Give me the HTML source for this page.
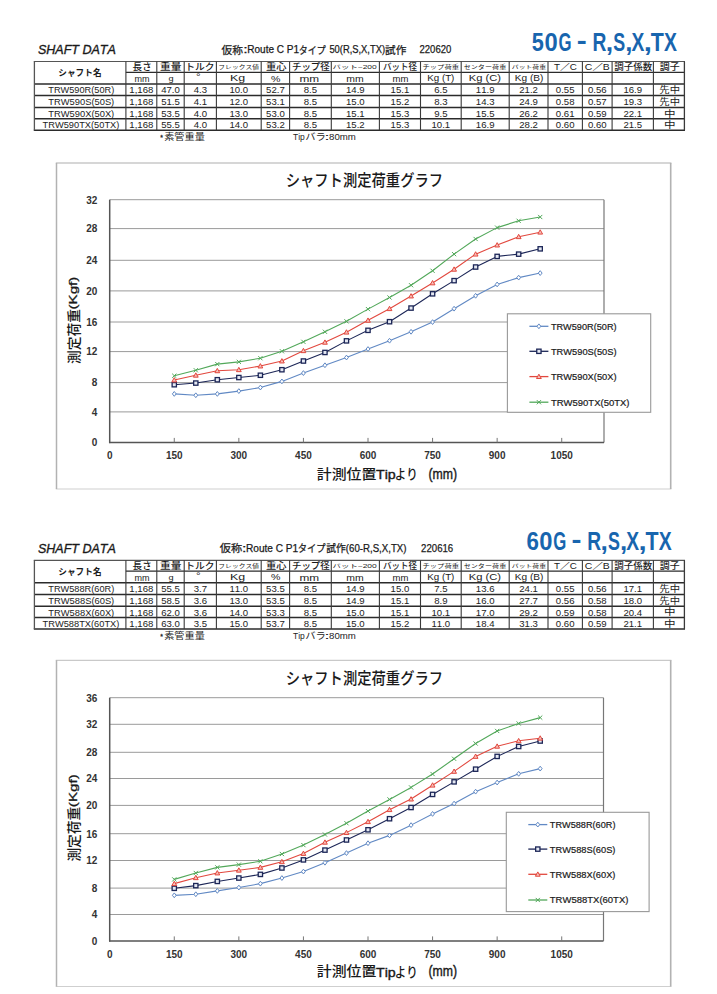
<!DOCTYPE html>
<html lang="ja"><head><meta charset="utf-8"><title>SHAFT DATA</title>
<style>
html,body{margin:0;padding:0;background:#fff;}
body{width:717px;height:994px;overflow:hidden;}
svg{display:block;}
text{font-kerning:none;}
</style></head><body>
<svg width="717" height="994" viewBox="0 0 717 994">
<rect width="717" height="994" fill="#fff"/>
<text x="37.88" y="54.27" font-size="12.68" text-anchor="start" font-family='"Liberation Sans", "Noto Sans CJK JP", sans-serif' fill="#1a1a1a" textLength="78.02" lengthAdjust="spacingAndGlyphs" style="font-style:italic" stroke="#1a1a1a" stroke-width="0.35">SHAFT DATA</text>
<text x="221.49" y="53.50" font-size="10.5" text-anchor="start" font-family='"Liberation Sans", "Noto Sans CJK JP", sans-serif' fill="#1a1a1a" textLength="21.44" lengthAdjust="spacingAndGlyphs" stroke="#1a1a1a" stroke-width="0.25">仮称</text>
<text x="243.16" y="53.20" font-size="10" text-anchor="start" font-family='"Liberation Sans", "Noto Sans CJK JP", sans-serif' fill="#1a1a1a" textLength="4.44" lengthAdjust="spacingAndGlyphs" stroke="#1a1a1a" stroke-width="0.25">:</text>
<text x="247.30" y="53.20" font-size="10" text-anchor="start" font-family='"Liberation Sans", "Noto Sans CJK JP", sans-serif' fill="#1a1a1a" textLength="51.85" lengthAdjust="spacingAndGlyphs" stroke="#1a1a1a" stroke-width="0.25">Route C P1</text>
<text x="298.69" y="53.50" font-size="10.5" text-anchor="start" font-family='"Liberation Sans", "Noto Sans CJK JP", sans-serif' fill="#1a1a1a" textLength="26.94" lengthAdjust="spacingAndGlyphs" stroke="#1a1a1a" stroke-width="0.25">タイプ</text>
<text x="329.43" y="53.20" font-size="10" text-anchor="start" font-family='"Liberation Sans", "Noto Sans CJK JP", sans-serif' fill="#1a1a1a" textLength="55.60" lengthAdjust="spacingAndGlyphs" stroke="#1a1a1a" stroke-width="0.25">50(R,S,X,TX)</text>
<text x="385.03" y="53.50" font-size="10.5" text-anchor="start" font-family='"Liberation Sans", "Noto Sans CJK JP", sans-serif' fill="#1a1a1a" textLength="21.24" lengthAdjust="spacingAndGlyphs" stroke="#1a1a1a" stroke-width="0.25">試作</text>
<text x="419.52" y="53.20" font-size="11" text-anchor="start" font-family='"Liberation Sans", "Noto Sans CJK JP", sans-serif' fill="#1a1a1a" textLength="31.83" lengthAdjust="spacingAndGlyphs" stroke="#1a1a1a" stroke-width="0.25">220620</text>
<text x="531.83" y="50.70" font-size="26.6" text-anchor="start" font-family='"Liberation Sans", "Noto Sans CJK JP", sans-serif' font-weight="bold" fill="#1865ae" textLength="12.07" lengthAdjust="spacingAndGlyphs">5</text>
<text x="544.46" y="50.70" font-size="26.6" text-anchor="start" font-family='"Liberation Sans", "Noto Sans CJK JP", sans-serif' font-weight="bold" fill="#1865ae" textLength="13.21" lengthAdjust="spacingAndGlyphs">0</text>
<text x="558.41" y="50.70" font-size="26.6" text-anchor="start" font-family='"Liberation Sans", "Noto Sans CJK JP", sans-serif' font-weight="bold" fill="#1865ae" textLength="13.03" lengthAdjust="spacingAndGlyphs">G</text>
<text x="576.73" y="49.10" font-size="26.6" text-anchor="start" font-family='"Liberation Sans", "Noto Sans CJK JP", sans-serif' font-weight="bold" fill="#1865ae" textLength="9.97" lengthAdjust="spacingAndGlyphs">-</text>
<text x="592.51" y="50.70" font-size="26.6" text-anchor="start" font-family='"Liberation Sans", "Noto Sans CJK JP", sans-serif' font-weight="bold" fill="#1865ae" textLength="13.88" lengthAdjust="spacingAndGlyphs">R</text>
<text x="605.70" y="50.70" font-size="26.6" text-anchor="start" font-family='"Liberation Sans", "Noto Sans CJK JP", sans-serif' font-weight="bold" fill="#1865ae" textLength="7.38" lengthAdjust="spacingAndGlyphs">,</text>
<text x="613.19" y="50.70" font-size="26.6" text-anchor="start" font-family='"Liberation Sans", "Noto Sans CJK JP", sans-serif' font-weight="bold" fill="#1865ae" textLength="11.91" lengthAdjust="spacingAndGlyphs">S</text>
<text x="625.24" y="50.70" font-size="26.6" text-anchor="start" font-family='"Liberation Sans", "Noto Sans CJK JP", sans-serif' font-weight="bold" fill="#1865ae" textLength="7.19" lengthAdjust="spacingAndGlyphs">,</text>
<text x="631.53" y="50.70" font-size="26.6" text-anchor="start" font-family='"Liberation Sans", "Noto Sans CJK JP", sans-serif' font-weight="bold" fill="#1865ae" textLength="12.84" lengthAdjust="spacingAndGlyphs">X</text>
<text x="643.81" y="50.70" font-size="26.6" text-anchor="start" font-family='"Liberation Sans", "Noto Sans CJK JP", sans-serif' font-weight="bold" fill="#1865ae" textLength="8.16" lengthAdjust="spacingAndGlyphs">,</text>
<text x="650.76" y="50.70" font-size="26.6" text-anchor="start" font-family='"Liberation Sans", "Noto Sans CJK JP", sans-serif' font-weight="bold" fill="#1865ae" textLength="13.07" lengthAdjust="spacingAndGlyphs">T</text>
<text x="663.93" y="50.70" font-size="26.6" text-anchor="start" font-family='"Liberation Sans", "Noto Sans CJK JP", sans-serif' font-weight="bold" fill="#1865ae" textLength="12.94" lengthAdjust="spacingAndGlyphs">X</text>
<line x1="33.80" y1="61.50" x2="685.00" y2="61.50" stroke="#555" stroke-width="1.2"/>
<line x1="125.90" y1="72.30" x2="684.40" y2="72.30" stroke="#2b2b2b" stroke-width="1.2"/>
<line x1="34.40" y1="83.90" x2="684.40" y2="83.90" stroke="#2b2b2b" stroke-width="1.5"/>
<line x1="34.40" y1="95.60" x2="684.40" y2="95.60" stroke="#2b2b2b" stroke-width="1.5"/>
<line x1="34.40" y1="107.40" x2="684.40" y2="107.40" stroke="#2b2b2b" stroke-width="1.5"/>
<line x1="34.40" y1="118.80" x2="684.40" y2="118.80" stroke="#2b2b2b" stroke-width="1.5"/>
<line x1="33.80" y1="130.30" x2="685.00" y2="130.30" stroke="#2b2b2b" stroke-width="1.5"/>
<line x1="34.40" y1="61.50" x2="34.40" y2="130.30" stroke="#555" stroke-width="1.3"/>
<line x1="125.90" y1="61.50" x2="125.90" y2="130.30" stroke="#3a3a3a" stroke-width="1.1"/>
<line x1="156.80" y1="61.50" x2="156.80" y2="130.30" stroke="#3a3a3a" stroke-width="1.1"/>
<line x1="184.20" y1="61.50" x2="184.20" y2="130.30" stroke="#3a3a3a" stroke-width="1.1"/>
<line x1="216.40" y1="61.50" x2="216.40" y2="130.30" stroke="#3a3a3a" stroke-width="1.1"/>
<line x1="261.20" y1="61.50" x2="261.20" y2="130.30" stroke="#3a3a3a" stroke-width="1.1"/>
<line x1="289.60" y1="61.50" x2="289.60" y2="130.30" stroke="#3a3a3a" stroke-width="1.1"/>
<line x1="331.30" y1="61.50" x2="331.30" y2="130.30" stroke="#3a3a3a" stroke-width="1.1"/>
<line x1="379.40" y1="61.50" x2="379.40" y2="130.30" stroke="#3a3a3a" stroke-width="1.1"/>
<line x1="420.50" y1="61.50" x2="420.50" y2="130.30" stroke="#3a3a3a" stroke-width="1.1"/>
<line x1="461.20" y1="61.50" x2="461.20" y2="130.30" stroke="#3a3a3a" stroke-width="1.1"/>
<line x1="509.20" y1="61.50" x2="509.20" y2="130.30" stroke="#3a3a3a" stroke-width="1.1"/>
<line x1="548.00" y1="61.50" x2="548.00" y2="130.30" stroke="#3a3a3a" stroke-width="1.1"/>
<line x1="582.40" y1="61.50" x2="582.40" y2="130.30" stroke="#3a3a3a" stroke-width="1.1"/>
<line x1="612.10" y1="61.50" x2="612.10" y2="130.30" stroke="#3a3a3a" stroke-width="1.1"/>
<line x1="653.40" y1="61.50" x2="653.40" y2="130.30" stroke="#3a3a3a" stroke-width="1.1"/>
<line x1="684.40" y1="61.50" x2="684.40" y2="130.30" stroke="#3a3a3a" stroke-width="1.3"/>
<text x="58.31" y="75.89" font-size="8.7" text-anchor="start" font-family='"Liberation Sans", "Noto Sans CJK JP", sans-serif' font-weight="bold" fill="#1a1a1a" textLength="43.26" lengthAdjust="spacingAndGlyphs">シャフト名</text>
<text x="132.57" y="69.98" font-size="9.11" text-anchor="start" font-family='"Liberation Sans", "Noto Sans CJK JP", sans-serif' font-weight="500" fill="#1a1a1a" textLength="19.18" lengthAdjust="spacingAndGlyphs">長さ</text>
<text x="160.02" y="70.21" font-size="9.01" text-anchor="start" font-family='"Liberation Sans", "Noto Sans CJK JP", sans-serif' font-weight="500" fill="#1a1a1a" textLength="21.41" lengthAdjust="spacingAndGlyphs">重量</text>
<text x="185.32" y="70.24" font-size="9.32" text-anchor="start" font-family='"Liberation Sans", "Noto Sans CJK JP", sans-serif' font-weight="500" fill="#1a1a1a" textLength="29.30" lengthAdjust="spacingAndGlyphs">トルク</text>
<text x="218.35" y="68.74" font-size="5.38" text-anchor="start" font-family='"Liberation Sans", "Noto Sans CJK JP", sans-serif' fill="#222" textLength="40.62" lengthAdjust="spacingAndGlyphs">フレックス値</text>
<text x="265.94" y="70.13" font-size="8.91" text-anchor="start" font-family='"Liberation Sans", "Noto Sans CJK JP", sans-serif' font-weight="500" fill="#1a1a1a" textLength="20.52" lengthAdjust="spacingAndGlyphs">重心</text>
<text x="291.94" y="70.05" font-size="8.82" text-anchor="start" font-family='"Liberation Sans", "Noto Sans CJK JP", sans-serif' font-weight="500" fill="#1a1a1a" textLength="37.80" lengthAdjust="spacingAndGlyphs">チップ径</text>
<text x="332.60" y="68.76" font-size="5.56" text-anchor="start" font-family='"Liberation Sans", "Noto Sans CJK JP", sans-serif' fill="#222" textLength="44.12" lengthAdjust="spacingAndGlyphs">バット−200</text>
<text x="382.98" y="70.05" font-size="8.82" text-anchor="start" font-family='"Liberation Sans", "Noto Sans CJK JP", sans-serif' font-weight="500" fill="#1a1a1a" textLength="33.95" lengthAdjust="spacingAndGlyphs">バット径</text>
<text x="422.48" y="68.74" font-size="5.38" text-anchor="start" font-family='"Liberation Sans", "Noto Sans CJK JP", sans-serif' fill="#222" textLength="36.59" lengthAdjust="spacingAndGlyphs">チップ荷重</text>
<text x="463.67" y="68.74" font-size="5.38" text-anchor="start" font-family='"Liberation Sans", "Noto Sans CJK JP", sans-serif' fill="#222" textLength="42.58" lengthAdjust="spacingAndGlyphs">センター荷重</text>
<text x="511.79" y="68.74" font-size="5.38" text-anchor="start" font-family='"Liberation Sans", "Noto Sans CJK JP", sans-serif' fill="#222" textLength="34.25" lengthAdjust="spacingAndGlyphs">バット荷重</text>
<text x="553.90" y="70.01" font-size="8.72" text-anchor="start" font-family='"Liberation Sans", "Noto Sans CJK JP", sans-serif' font-weight="500" fill="#1a1a1a" textLength="22.87" lengthAdjust="spacingAndGlyphs">T／C</text>
<text x="584.88" y="70.01" font-size="8.72" text-anchor="start" font-family='"Liberation Sans", "Noto Sans CJK JP", sans-serif' font-weight="500" fill="#1a1a1a" textLength="24.89" lengthAdjust="spacingAndGlyphs">C／B</text>
<text x="614.21" y="69.98" font-size="8.68" text-anchor="start" font-family='"Liberation Sans", "Noto Sans CJK JP", sans-serif' font-weight="500" fill="#1a1a1a" textLength="38.02" lengthAdjust="spacingAndGlyphs">調子係数</text>
<text x="659.80" y="69.94" font-size="9.01" text-anchor="start" font-family='"Liberation Sans", "Noto Sans CJK JP", sans-serif' font-weight="500" fill="#1a1a1a" textLength="19.90" lengthAdjust="spacingAndGlyphs">調子</text>
<text x="134.61" y="82.30" font-size="9.26" text-anchor="start" font-family='"Liberation Sans", "Noto Sans CJK JP", sans-serif' fill="#1a1a1a" textLength="15.04" lengthAdjust="spacingAndGlyphs">mm</text>
<text x="168.43" y="81.44" font-size="7.92" text-anchor="start" font-family='"Liberation Sans", "Noto Sans CJK JP", sans-serif' fill="#1a1a1a" textLength="5.13" lengthAdjust="spacingAndGlyphs">g</text>
<text x="196.06" y="80.30" font-size="8.57" text-anchor="start" font-family='"Liberation Sans", "Noto Sans CJK JP", sans-serif' fill="#1a1a1a" textLength="4.63" lengthAdjust="spacingAndGlyphs">°</text>
<text x="230.01" y="81.36" font-size="9.22" text-anchor="start" font-family='"Liberation Sans", "Noto Sans CJK JP", sans-serif' fill="#1a1a1a" textLength="15.18" lengthAdjust="spacingAndGlyphs">Kg</text>
<text x="270.93" y="81.56" font-size="8.43" text-anchor="start" font-family='"Liberation Sans", "Noto Sans CJK JP", sans-serif' fill="#1a1a1a" textLength="9.43" lengthAdjust="spacingAndGlyphs">%</text>
<text x="299.53" y="82.30" font-size="9.26" text-anchor="start" font-family='"Liberation Sans", "Noto Sans CJK JP", sans-serif' fill="#1a1a1a" textLength="19.69" lengthAdjust="spacingAndGlyphs">mm</text>
<text x="346.32" y="82.30" font-size="9.26" text-anchor="start" font-family='"Liberation Sans", "Noto Sans CJK JP", sans-serif' fill="#1a1a1a" textLength="17.42" lengthAdjust="spacingAndGlyphs">mm</text>
<text x="392.48" y="82.30" font-size="9.26" text-anchor="start" font-family='"Liberation Sans", "Noto Sans CJK JP", sans-serif' fill="#1a1a1a" textLength="15.90" lengthAdjust="spacingAndGlyphs">mm</text>
<text x="427.22" y="81.48" font-size="8.66" text-anchor="start" font-family='"Liberation Sans", "Noto Sans CJK JP", sans-serif' fill="#1a1a1a" textLength="27.15" lengthAdjust="spacingAndGlyphs">Kg (T)</text>
<text x="468.71" y="81.48" font-size="8.66" text-anchor="start" font-family='"Liberation Sans", "Noto Sans CJK JP", sans-serif' fill="#1a1a1a" textLength="32.26" lengthAdjust="spacingAndGlyphs">Kg (C)</text>
<text x="514.89" y="81.48" font-size="8.66" text-anchor="start" font-family='"Liberation Sans", "Noto Sans CJK JP", sans-serif' fill="#1a1a1a" textLength="28.60" lengthAdjust="spacingAndGlyphs">Kg (B)</text>
<text x="48.32" y="93.20" font-size="9.5" text-anchor="start" font-family='"Liberation Sans", "Noto Sans CJK JP", sans-serif' fill="#222" textLength="65.94" lengthAdjust="spacingAndGlyphs">TRW590R(50R)</text>
<text x="141.35" y="93.40" font-size="9.6" text-anchor="middle" font-family='"Liberation Sans", "Noto Sans CJK JP", sans-serif' fill="#222">1,168</text>
<text x="170.50" y="93.40" font-size="9.6" text-anchor="middle" font-family='"Liberation Sans", "Noto Sans CJK JP", sans-serif' fill="#222">47.0</text>
<text x="200.30" y="93.40" font-size="9.6" text-anchor="middle" font-family='"Liberation Sans", "Noto Sans CJK JP", sans-serif' fill="#222">4.3</text>
<text x="238.80" y="93.40" font-size="9.6" text-anchor="middle" font-family='"Liberation Sans", "Noto Sans CJK JP", sans-serif' fill="#222">10.0</text>
<text x="275.40" y="93.40" font-size="9.6" text-anchor="middle" font-family='"Liberation Sans", "Noto Sans CJK JP", sans-serif' fill="#222">52.7</text>
<text x="310.45" y="93.40" font-size="9.6" text-anchor="middle" font-family='"Liberation Sans", "Noto Sans CJK JP", sans-serif' fill="#222">8.5</text>
<text x="355.35" y="93.40" font-size="9.6" text-anchor="middle" font-family='"Liberation Sans", "Noto Sans CJK JP", sans-serif' fill="#222">14.9</text>
<text x="399.95" y="93.40" font-size="9.6" text-anchor="middle" font-family='"Liberation Sans", "Noto Sans CJK JP", sans-serif' fill="#222">15.1</text>
<text x="440.85" y="93.40" font-size="9.6" text-anchor="middle" font-family='"Liberation Sans", "Noto Sans CJK JP", sans-serif' fill="#222">6.5</text>
<text x="485.20" y="93.40" font-size="9.6" text-anchor="middle" font-family='"Liberation Sans", "Noto Sans CJK JP", sans-serif' fill="#222">11.9</text>
<text x="528.60" y="93.40" font-size="9.6" text-anchor="middle" font-family='"Liberation Sans", "Noto Sans CJK JP", sans-serif' fill="#222">21.2</text>
<text x="565.20" y="93.40" font-size="9.6" text-anchor="middle" font-family='"Liberation Sans", "Noto Sans CJK JP", sans-serif' fill="#222">0.55</text>
<text x="597.25" y="93.40" font-size="9.6" text-anchor="middle" font-family='"Liberation Sans", "Noto Sans CJK JP", sans-serif' fill="#222">0.56</text>
<text x="632.75" y="93.40" font-size="9.6" text-anchor="middle" font-family='"Liberation Sans", "Noto Sans CJK JP", sans-serif' fill="#222">16.9</text>
<text x="659.34" y="93.03" font-size="8.56" text-anchor="start" font-family='"Liberation Sans", "Noto Sans CJK JP", sans-serif' fill="#222" textLength="20.65" lengthAdjust="spacingAndGlyphs">先中</text>
<text x="48.31" y="104.90" font-size="9.5" text-anchor="start" font-family='"Liberation Sans", "Noto Sans CJK JP", sans-serif' fill="#222" textLength="65.95" lengthAdjust="spacingAndGlyphs">TRW590S(50S)</text>
<text x="141.35" y="105.10" font-size="9.6" text-anchor="middle" font-family='"Liberation Sans", "Noto Sans CJK JP", sans-serif' fill="#222">1,168</text>
<text x="170.50" y="105.10" font-size="9.6" text-anchor="middle" font-family='"Liberation Sans", "Noto Sans CJK JP", sans-serif' fill="#222">51.5</text>
<text x="200.30" y="105.10" font-size="9.6" text-anchor="middle" font-family='"Liberation Sans", "Noto Sans CJK JP", sans-serif' fill="#222">4.1</text>
<text x="238.80" y="105.10" font-size="9.6" text-anchor="middle" font-family='"Liberation Sans", "Noto Sans CJK JP", sans-serif' fill="#222">12.0</text>
<text x="275.40" y="105.10" font-size="9.6" text-anchor="middle" font-family='"Liberation Sans", "Noto Sans CJK JP", sans-serif' fill="#222">53.1</text>
<text x="310.45" y="105.10" font-size="9.6" text-anchor="middle" font-family='"Liberation Sans", "Noto Sans CJK JP", sans-serif' fill="#222">8.5</text>
<text x="355.35" y="105.10" font-size="9.6" text-anchor="middle" font-family='"Liberation Sans", "Noto Sans CJK JP", sans-serif' fill="#222">15.0</text>
<text x="399.95" y="105.10" font-size="9.6" text-anchor="middle" font-family='"Liberation Sans", "Noto Sans CJK JP", sans-serif' fill="#222">15.2</text>
<text x="440.85" y="105.10" font-size="9.6" text-anchor="middle" font-family='"Liberation Sans", "Noto Sans CJK JP", sans-serif' fill="#222">8.3</text>
<text x="485.20" y="105.10" font-size="9.6" text-anchor="middle" font-family='"Liberation Sans", "Noto Sans CJK JP", sans-serif' fill="#222">14.3</text>
<text x="528.60" y="105.10" font-size="9.6" text-anchor="middle" font-family='"Liberation Sans", "Noto Sans CJK JP", sans-serif' fill="#222">24.9</text>
<text x="565.20" y="105.10" font-size="9.6" text-anchor="middle" font-family='"Liberation Sans", "Noto Sans CJK JP", sans-serif' fill="#222">0.58</text>
<text x="597.25" y="105.10" font-size="9.6" text-anchor="middle" font-family='"Liberation Sans", "Noto Sans CJK JP", sans-serif' fill="#222">0.57</text>
<text x="632.75" y="105.10" font-size="9.6" text-anchor="middle" font-family='"Liberation Sans", "Noto Sans CJK JP", sans-serif' fill="#222">19.3</text>
<text x="659.34" y="104.73" font-size="8.56" text-anchor="start" font-family='"Liberation Sans", "Noto Sans CJK JP", sans-serif' fill="#222" textLength="20.65" lengthAdjust="spacingAndGlyphs">先中</text>
<text x="48.31" y="116.70" font-size="9.5" text-anchor="start" font-family='"Liberation Sans", "Noto Sans CJK JP", sans-serif' fill="#222" textLength="65.95" lengthAdjust="spacingAndGlyphs">TRW590X(50X)</text>
<text x="141.35" y="116.90" font-size="9.6" text-anchor="middle" font-family='"Liberation Sans", "Noto Sans CJK JP", sans-serif' fill="#222">1,168</text>
<text x="170.50" y="116.90" font-size="9.6" text-anchor="middle" font-family='"Liberation Sans", "Noto Sans CJK JP", sans-serif' fill="#222">53.5</text>
<text x="200.30" y="116.90" font-size="9.6" text-anchor="middle" font-family='"Liberation Sans", "Noto Sans CJK JP", sans-serif' fill="#222">4.0</text>
<text x="238.80" y="116.90" font-size="9.6" text-anchor="middle" font-family='"Liberation Sans", "Noto Sans CJK JP", sans-serif' fill="#222">13.0</text>
<text x="275.40" y="116.90" font-size="9.6" text-anchor="middle" font-family='"Liberation Sans", "Noto Sans CJK JP", sans-serif' fill="#222">53.0</text>
<text x="310.45" y="116.90" font-size="9.6" text-anchor="middle" font-family='"Liberation Sans", "Noto Sans CJK JP", sans-serif' fill="#222">8.5</text>
<text x="355.35" y="116.90" font-size="9.6" text-anchor="middle" font-family='"Liberation Sans", "Noto Sans CJK JP", sans-serif' fill="#222">15.1</text>
<text x="399.95" y="116.90" font-size="9.6" text-anchor="middle" font-family='"Liberation Sans", "Noto Sans CJK JP", sans-serif' fill="#222">15.3</text>
<text x="440.85" y="116.90" font-size="9.6" text-anchor="middle" font-family='"Liberation Sans", "Noto Sans CJK JP", sans-serif' fill="#222">9.5</text>
<text x="485.20" y="116.90" font-size="9.6" text-anchor="middle" font-family='"Liberation Sans", "Noto Sans CJK JP", sans-serif' fill="#222">15.5</text>
<text x="528.60" y="116.90" font-size="9.6" text-anchor="middle" font-family='"Liberation Sans", "Noto Sans CJK JP", sans-serif' fill="#222">26.2</text>
<text x="565.20" y="116.90" font-size="9.6" text-anchor="middle" font-family='"Liberation Sans", "Noto Sans CJK JP", sans-serif' fill="#222">0.61</text>
<text x="597.25" y="116.90" font-size="9.6" text-anchor="middle" font-family='"Liberation Sans", "Noto Sans CJK JP", sans-serif' fill="#222">0.59</text>
<text x="632.75" y="116.90" font-size="9.6" text-anchor="middle" font-family='"Liberation Sans", "Noto Sans CJK JP", sans-serif' fill="#222">22.1</text>
<text x="663.90" y="116.57" font-size="8.6" text-anchor="start" font-family='"Liberation Sans", "Noto Sans CJK JP", sans-serif' fill="#222" textLength="11.60" lengthAdjust="spacingAndGlyphs">中</text>
<text x="42.61" y="128.10" font-size="9.5" text-anchor="start" font-family='"Liberation Sans", "Noto Sans CJK JP", sans-serif' fill="#222" textLength="76.71" lengthAdjust="spacingAndGlyphs">TRW590TX(50TX)</text>
<text x="141.35" y="128.30" font-size="9.6" text-anchor="middle" font-family='"Liberation Sans", "Noto Sans CJK JP", sans-serif' fill="#222">1,168</text>
<text x="170.50" y="128.30" font-size="9.6" text-anchor="middle" font-family='"Liberation Sans", "Noto Sans CJK JP", sans-serif' fill="#222">55.5</text>
<text x="200.30" y="128.30" font-size="9.6" text-anchor="middle" font-family='"Liberation Sans", "Noto Sans CJK JP", sans-serif' fill="#222">4.0</text>
<text x="238.80" y="128.30" font-size="9.6" text-anchor="middle" font-family='"Liberation Sans", "Noto Sans CJK JP", sans-serif' fill="#222">14.0</text>
<text x="275.40" y="128.30" font-size="9.6" text-anchor="middle" font-family='"Liberation Sans", "Noto Sans CJK JP", sans-serif' fill="#222">53.2</text>
<text x="310.45" y="128.30" font-size="9.6" text-anchor="middle" font-family='"Liberation Sans", "Noto Sans CJK JP", sans-serif' fill="#222">8.5</text>
<text x="355.35" y="128.30" font-size="9.6" text-anchor="middle" font-family='"Liberation Sans", "Noto Sans CJK JP", sans-serif' fill="#222">15.2</text>
<text x="399.95" y="128.30" font-size="9.6" text-anchor="middle" font-family='"Liberation Sans", "Noto Sans CJK JP", sans-serif' fill="#222">15.3</text>
<text x="440.85" y="128.30" font-size="9.6" text-anchor="middle" font-family='"Liberation Sans", "Noto Sans CJK JP", sans-serif' fill="#222">10.1</text>
<text x="485.20" y="128.30" font-size="9.6" text-anchor="middle" font-family='"Liberation Sans", "Noto Sans CJK JP", sans-serif' fill="#222">16.9</text>
<text x="528.60" y="128.30" font-size="9.6" text-anchor="middle" font-family='"Liberation Sans", "Noto Sans CJK JP", sans-serif' fill="#222">28.2</text>
<text x="565.20" y="128.30" font-size="9.6" text-anchor="middle" font-family='"Liberation Sans", "Noto Sans CJK JP", sans-serif' fill="#222">0.60</text>
<text x="597.25" y="128.30" font-size="9.6" text-anchor="middle" font-family='"Liberation Sans", "Noto Sans CJK JP", sans-serif' fill="#222">0.60</text>
<text x="632.75" y="128.30" font-size="9.6" text-anchor="middle" font-family='"Liberation Sans", "Noto Sans CJK JP", sans-serif' fill="#222">21.5</text>
<text x="663.90" y="127.97" font-size="8.6" text-anchor="start" font-family='"Liberation Sans", "Noto Sans CJK JP", sans-serif' fill="#222" textLength="11.60" lengthAdjust="spacingAndGlyphs">中</text>
<text x="160.20" y="140.20" font-size="8" text-anchor="start" font-family='"Liberation Sans", "Noto Sans CJK JP", sans-serif' fill="#222" textLength="2.70" lengthAdjust="spacingAndGlyphs" stroke="#222" stroke-width="0.3">*</text>
<text x="164.19" y="140.30" font-size="9.3" text-anchor="start" font-family='"Liberation Sans", "Noto Sans CJK JP", sans-serif' fill="#222" textLength="40.66" lengthAdjust="spacingAndGlyphs">素管重量</text>
<text x="293.03" y="139.70" font-size="9" text-anchor="start" font-family='"Liberation Sans", "Noto Sans CJK JP", sans-serif' fill="#222" textLength="11.74" lengthAdjust="spacingAndGlyphs">Tip</text>
<text x="305.18" y="140.30" font-size="9.3" text-anchor="start" font-family='"Liberation Sans", "Noto Sans CJK JP", sans-serif' fill="#222" textLength="20.66" lengthAdjust="spacingAndGlyphs">バラ</text>
<text x="324.20" y="139.80" font-size="9" text-anchor="start" font-family='"Liberation Sans", "Noto Sans CJK JP", sans-serif' fill="#222" textLength="5.56" lengthAdjust="spacingAndGlyphs">:</text>
<text x="329.11" y="139.80" font-size="8.5" text-anchor="start" font-family='"Liberation Sans", "Noto Sans CJK JP", sans-serif' fill="#222" textLength="26.80" lengthAdjust="spacingAndGlyphs">80mm</text>
<text x="37.88" y="553.07" font-size="12.68" text-anchor="start" font-family='"Liberation Sans", "Noto Sans CJK JP", sans-serif' fill="#1a1a1a" textLength="78.02" lengthAdjust="spacingAndGlyphs" style="font-style:italic" stroke="#1a1a1a" stroke-width="0.35">SHAFT DATA</text>
<text x="219.78" y="552.30" font-size="10.5" text-anchor="start" font-family='"Liberation Sans", "Noto Sans CJK JP", sans-serif' fill="#1a1a1a" textLength="22.36" lengthAdjust="spacingAndGlyphs" stroke="#1a1a1a" stroke-width="0.25">仮称</text>
<text x="241.96" y="552.00" font-size="10" text-anchor="start" font-family='"Liberation Sans", "Noto Sans CJK JP", sans-serif' fill="#1a1a1a" textLength="4.44" lengthAdjust="spacingAndGlyphs" stroke="#1a1a1a" stroke-width="0.25">:</text>
<text x="245.99" y="552.00" font-size="10" text-anchor="start" font-family='"Liberation Sans", "Noto Sans CJK JP", sans-serif' fill="#1a1a1a" textLength="52.26" lengthAdjust="spacingAndGlyphs" stroke="#1a1a1a" stroke-width="0.25">Route C P1</text>
<text x="297.87" y="552.30" font-size="10.5" text-anchor="start" font-family='"Liberation Sans", "Noto Sans CJK JP", sans-serif' fill="#1a1a1a" textLength="27.77" lengthAdjust="spacingAndGlyphs" stroke="#1a1a1a" stroke-width="0.25">タイプ</text>
<text x="326.16" y="552.30" font-size="10.5" text-anchor="start" font-family='"Liberation Sans", "Noto Sans CJK JP", sans-serif' fill="#1a1a1a" textLength="19.59" lengthAdjust="spacingAndGlyphs" stroke="#1a1a1a" stroke-width="0.25">試作</text>
<text x="345.82" y="552.00" font-size="10" text-anchor="start" font-family='"Liberation Sans", "Noto Sans CJK JP", sans-serif' fill="#1a1a1a" textLength="60.65" lengthAdjust="spacingAndGlyphs" stroke="#1a1a1a" stroke-width="0.25">(60-R,S,X,TX)</text>
<text x="421.12" y="552.00" font-size="11" text-anchor="start" font-family='"Liberation Sans", "Noto Sans CJK JP", sans-serif' fill="#1a1a1a" textLength="32.08" lengthAdjust="spacingAndGlyphs" stroke="#1a1a1a" stroke-width="0.25">220616</text>
<text x="526.48" y="549.50" font-size="26.6" text-anchor="start" font-family='"Liberation Sans", "Noto Sans CJK JP", sans-serif' font-weight="bold" fill="#1865ae" textLength="12.43" lengthAdjust="spacingAndGlyphs">6</text>
<text x="539.26" y="549.50" font-size="26.6" text-anchor="start" font-family='"Liberation Sans", "Noto Sans CJK JP", sans-serif' font-weight="bold" fill="#1865ae" textLength="13.21" lengthAdjust="spacingAndGlyphs">0</text>
<text x="553.21" y="549.50" font-size="26.6" text-anchor="start" font-family='"Liberation Sans", "Noto Sans CJK JP", sans-serif' font-weight="bold" fill="#1865ae" textLength="13.03" lengthAdjust="spacingAndGlyphs">G</text>
<text x="571.53" y="547.90" font-size="26.6" text-anchor="start" font-family='"Liberation Sans", "Noto Sans CJK JP", sans-serif' font-weight="bold" fill="#1865ae" textLength="9.97" lengthAdjust="spacingAndGlyphs">-</text>
<text x="587.31" y="549.50" font-size="26.6" text-anchor="start" font-family='"Liberation Sans", "Noto Sans CJK JP", sans-serif' font-weight="bold" fill="#1865ae" textLength="13.88" lengthAdjust="spacingAndGlyphs">R</text>
<text x="600.50" y="549.50" font-size="26.6" text-anchor="start" font-family='"Liberation Sans", "Noto Sans CJK JP", sans-serif' font-weight="bold" fill="#1865ae" textLength="7.38" lengthAdjust="spacingAndGlyphs">,</text>
<text x="607.99" y="549.50" font-size="26.6" text-anchor="start" font-family='"Liberation Sans", "Noto Sans CJK JP", sans-serif' font-weight="bold" fill="#1865ae" textLength="11.91" lengthAdjust="spacingAndGlyphs">S</text>
<text x="620.04" y="549.50" font-size="26.6" text-anchor="start" font-family='"Liberation Sans", "Noto Sans CJK JP", sans-serif' font-weight="bold" fill="#1865ae" textLength="7.19" lengthAdjust="spacingAndGlyphs">,</text>
<text x="626.33" y="549.50" font-size="26.6" text-anchor="start" font-family='"Liberation Sans", "Noto Sans CJK JP", sans-serif' font-weight="bold" fill="#1865ae" textLength="12.84" lengthAdjust="spacingAndGlyphs">X</text>
<text x="638.61" y="549.50" font-size="26.6" text-anchor="start" font-family='"Liberation Sans", "Noto Sans CJK JP", sans-serif' font-weight="bold" fill="#1865ae" textLength="8.16" lengthAdjust="spacingAndGlyphs">,</text>
<text x="645.56" y="549.50" font-size="26.6" text-anchor="start" font-family='"Liberation Sans", "Noto Sans CJK JP", sans-serif' font-weight="bold" fill="#1865ae" textLength="13.07" lengthAdjust="spacingAndGlyphs">T</text>
<text x="658.73" y="549.50" font-size="26.6" text-anchor="start" font-family='"Liberation Sans", "Noto Sans CJK JP", sans-serif' font-weight="bold" fill="#1865ae" textLength="12.94" lengthAdjust="spacingAndGlyphs">X</text>
<line x1="33.80" y1="560.30" x2="685.00" y2="560.30" stroke="#555" stroke-width="1.2"/>
<line x1="125.90" y1="571.10" x2="684.40" y2="571.10" stroke="#2b2b2b" stroke-width="1.2"/>
<line x1="34.40" y1="582.70" x2="684.40" y2="582.70" stroke="#2b2b2b" stroke-width="1.5"/>
<line x1="34.40" y1="594.40" x2="684.40" y2="594.40" stroke="#2b2b2b" stroke-width="1.5"/>
<line x1="34.40" y1="606.20" x2="684.40" y2="606.20" stroke="#2b2b2b" stroke-width="1.5"/>
<line x1="34.40" y1="617.60" x2="684.40" y2="617.60" stroke="#2b2b2b" stroke-width="1.5"/>
<line x1="33.80" y1="629.10" x2="685.00" y2="629.10" stroke="#2b2b2b" stroke-width="1.5"/>
<line x1="34.40" y1="560.30" x2="34.40" y2="629.10" stroke="#555" stroke-width="1.3"/>
<line x1="125.90" y1="560.30" x2="125.90" y2="629.10" stroke="#3a3a3a" stroke-width="1.1"/>
<line x1="156.80" y1="560.30" x2="156.80" y2="629.10" stroke="#3a3a3a" stroke-width="1.1"/>
<line x1="184.20" y1="560.30" x2="184.20" y2="629.10" stroke="#3a3a3a" stroke-width="1.1"/>
<line x1="216.40" y1="560.30" x2="216.40" y2="629.10" stroke="#3a3a3a" stroke-width="1.1"/>
<line x1="261.20" y1="560.30" x2="261.20" y2="629.10" stroke="#3a3a3a" stroke-width="1.1"/>
<line x1="289.60" y1="560.30" x2="289.60" y2="629.10" stroke="#3a3a3a" stroke-width="1.1"/>
<line x1="331.30" y1="560.30" x2="331.30" y2="629.10" stroke="#3a3a3a" stroke-width="1.1"/>
<line x1="379.40" y1="560.30" x2="379.40" y2="629.10" stroke="#3a3a3a" stroke-width="1.1"/>
<line x1="420.50" y1="560.30" x2="420.50" y2="629.10" stroke="#3a3a3a" stroke-width="1.1"/>
<line x1="461.20" y1="560.30" x2="461.20" y2="629.10" stroke="#3a3a3a" stroke-width="1.1"/>
<line x1="509.20" y1="560.30" x2="509.20" y2="629.10" stroke="#3a3a3a" stroke-width="1.1"/>
<line x1="548.00" y1="560.30" x2="548.00" y2="629.10" stroke="#3a3a3a" stroke-width="1.1"/>
<line x1="582.40" y1="560.30" x2="582.40" y2="629.10" stroke="#3a3a3a" stroke-width="1.1"/>
<line x1="612.10" y1="560.30" x2="612.10" y2="629.10" stroke="#3a3a3a" stroke-width="1.1"/>
<line x1="653.40" y1="560.30" x2="653.40" y2="629.10" stroke="#3a3a3a" stroke-width="1.1"/>
<line x1="684.40" y1="560.30" x2="684.40" y2="629.10" stroke="#3a3a3a" stroke-width="1.3"/>
<text x="58.31" y="574.69" font-size="8.7" text-anchor="start" font-family='"Liberation Sans", "Noto Sans CJK JP", sans-serif' font-weight="bold" fill="#1a1a1a" textLength="43.26" lengthAdjust="spacingAndGlyphs">シャフト名</text>
<text x="132.57" y="568.78" font-size="9.11" text-anchor="start" font-family='"Liberation Sans", "Noto Sans CJK JP", sans-serif' font-weight="500" fill="#1a1a1a" textLength="19.18" lengthAdjust="spacingAndGlyphs">長さ</text>
<text x="160.02" y="569.01" font-size="9.01" text-anchor="start" font-family='"Liberation Sans", "Noto Sans CJK JP", sans-serif' font-weight="500" fill="#1a1a1a" textLength="21.41" lengthAdjust="spacingAndGlyphs">重量</text>
<text x="185.32" y="569.04" font-size="9.32" text-anchor="start" font-family='"Liberation Sans", "Noto Sans CJK JP", sans-serif' font-weight="500" fill="#1a1a1a" textLength="29.30" lengthAdjust="spacingAndGlyphs">トルク</text>
<text x="218.35" y="567.54" font-size="5.38" text-anchor="start" font-family='"Liberation Sans", "Noto Sans CJK JP", sans-serif' fill="#222" textLength="40.62" lengthAdjust="spacingAndGlyphs">フレックス値</text>
<text x="265.94" y="568.93" font-size="8.91" text-anchor="start" font-family='"Liberation Sans", "Noto Sans CJK JP", sans-serif' font-weight="500" fill="#1a1a1a" textLength="20.52" lengthAdjust="spacingAndGlyphs">重心</text>
<text x="291.94" y="568.85" font-size="8.82" text-anchor="start" font-family='"Liberation Sans", "Noto Sans CJK JP", sans-serif' font-weight="500" fill="#1a1a1a" textLength="37.80" lengthAdjust="spacingAndGlyphs">チップ径</text>
<text x="332.60" y="567.56" font-size="5.56" text-anchor="start" font-family='"Liberation Sans", "Noto Sans CJK JP", sans-serif' fill="#222" textLength="44.12" lengthAdjust="spacingAndGlyphs">バット−200</text>
<text x="382.98" y="568.85" font-size="8.82" text-anchor="start" font-family='"Liberation Sans", "Noto Sans CJK JP", sans-serif' font-weight="500" fill="#1a1a1a" textLength="33.95" lengthAdjust="spacingAndGlyphs">バット径</text>
<text x="422.48" y="567.54" font-size="5.38" text-anchor="start" font-family='"Liberation Sans", "Noto Sans CJK JP", sans-serif' fill="#222" textLength="36.59" lengthAdjust="spacingAndGlyphs">チップ荷重</text>
<text x="463.67" y="567.54" font-size="5.38" text-anchor="start" font-family='"Liberation Sans", "Noto Sans CJK JP", sans-serif' fill="#222" textLength="42.58" lengthAdjust="spacingAndGlyphs">センター荷重</text>
<text x="511.79" y="567.54" font-size="5.38" text-anchor="start" font-family='"Liberation Sans", "Noto Sans CJK JP", sans-serif' fill="#222" textLength="34.25" lengthAdjust="spacingAndGlyphs">バット荷重</text>
<text x="553.90" y="568.81" font-size="8.72" text-anchor="start" font-family='"Liberation Sans", "Noto Sans CJK JP", sans-serif' font-weight="500" fill="#1a1a1a" textLength="22.87" lengthAdjust="spacingAndGlyphs">T／C</text>
<text x="584.88" y="568.81" font-size="8.72" text-anchor="start" font-family='"Liberation Sans", "Noto Sans CJK JP", sans-serif' font-weight="500" fill="#1a1a1a" textLength="24.89" lengthAdjust="spacingAndGlyphs">C／B</text>
<text x="614.21" y="568.78" font-size="8.68" text-anchor="start" font-family='"Liberation Sans", "Noto Sans CJK JP", sans-serif' font-weight="500" fill="#1a1a1a" textLength="38.02" lengthAdjust="spacingAndGlyphs">調子係数</text>
<text x="659.80" y="568.74" font-size="9.01" text-anchor="start" font-family='"Liberation Sans", "Noto Sans CJK JP", sans-serif' font-weight="500" fill="#1a1a1a" textLength="19.90" lengthAdjust="spacingAndGlyphs">調子</text>
<text x="134.61" y="581.10" font-size="9.26" text-anchor="start" font-family='"Liberation Sans", "Noto Sans CJK JP", sans-serif' fill="#1a1a1a" textLength="15.04" lengthAdjust="spacingAndGlyphs">mm</text>
<text x="168.43" y="580.24" font-size="7.92" text-anchor="start" font-family='"Liberation Sans", "Noto Sans CJK JP", sans-serif' fill="#1a1a1a" textLength="5.13" lengthAdjust="spacingAndGlyphs">g</text>
<text x="196.06" y="579.10" font-size="8.57" text-anchor="start" font-family='"Liberation Sans", "Noto Sans CJK JP", sans-serif' fill="#1a1a1a" textLength="4.63" lengthAdjust="spacingAndGlyphs">°</text>
<text x="230.01" y="580.16" font-size="9.22" text-anchor="start" font-family='"Liberation Sans", "Noto Sans CJK JP", sans-serif' fill="#1a1a1a" textLength="15.18" lengthAdjust="spacingAndGlyphs">Kg</text>
<text x="270.93" y="580.36" font-size="8.43" text-anchor="start" font-family='"Liberation Sans", "Noto Sans CJK JP", sans-serif' fill="#1a1a1a" textLength="9.43" lengthAdjust="spacingAndGlyphs">%</text>
<text x="299.53" y="581.10" font-size="9.26" text-anchor="start" font-family='"Liberation Sans", "Noto Sans CJK JP", sans-serif' fill="#1a1a1a" textLength="19.69" lengthAdjust="spacingAndGlyphs">mm</text>
<text x="346.32" y="581.10" font-size="9.26" text-anchor="start" font-family='"Liberation Sans", "Noto Sans CJK JP", sans-serif' fill="#1a1a1a" textLength="17.42" lengthAdjust="spacingAndGlyphs">mm</text>
<text x="392.48" y="581.10" font-size="9.26" text-anchor="start" font-family='"Liberation Sans", "Noto Sans CJK JP", sans-serif' fill="#1a1a1a" textLength="15.90" lengthAdjust="spacingAndGlyphs">mm</text>
<text x="427.22" y="580.28" font-size="8.66" text-anchor="start" font-family='"Liberation Sans", "Noto Sans CJK JP", sans-serif' fill="#1a1a1a" textLength="27.15" lengthAdjust="spacingAndGlyphs">Kg (T)</text>
<text x="468.71" y="580.28" font-size="8.66" text-anchor="start" font-family='"Liberation Sans", "Noto Sans CJK JP", sans-serif' fill="#1a1a1a" textLength="32.26" lengthAdjust="spacingAndGlyphs">Kg (C)</text>
<text x="514.89" y="580.28" font-size="8.66" text-anchor="start" font-family='"Liberation Sans", "Noto Sans CJK JP", sans-serif' fill="#1a1a1a" textLength="28.60" lengthAdjust="spacingAndGlyphs">Kg (B)</text>
<text x="48.32" y="592.00" font-size="9.5" text-anchor="start" font-family='"Liberation Sans", "Noto Sans CJK JP", sans-serif' fill="#222" textLength="65.94" lengthAdjust="spacingAndGlyphs">TRW588R(60R)</text>
<text x="141.35" y="592.20" font-size="9.6" text-anchor="middle" font-family='"Liberation Sans", "Noto Sans CJK JP", sans-serif' fill="#222">1,168</text>
<text x="170.50" y="592.20" font-size="9.6" text-anchor="middle" font-family='"Liberation Sans", "Noto Sans CJK JP", sans-serif' fill="#222">55.5</text>
<text x="200.30" y="592.20" font-size="9.6" text-anchor="middle" font-family='"Liberation Sans", "Noto Sans CJK JP", sans-serif' fill="#222">3.7</text>
<text x="238.80" y="592.20" font-size="9.6" text-anchor="middle" font-family='"Liberation Sans", "Noto Sans CJK JP", sans-serif' fill="#222">11.0</text>
<text x="275.40" y="592.20" font-size="9.6" text-anchor="middle" font-family='"Liberation Sans", "Noto Sans CJK JP", sans-serif' fill="#222">53.5</text>
<text x="310.45" y="592.20" font-size="9.6" text-anchor="middle" font-family='"Liberation Sans", "Noto Sans CJK JP", sans-serif' fill="#222">8.5</text>
<text x="355.35" y="592.20" font-size="9.6" text-anchor="middle" font-family='"Liberation Sans", "Noto Sans CJK JP", sans-serif' fill="#222">14.9</text>
<text x="399.95" y="592.20" font-size="9.6" text-anchor="middle" font-family='"Liberation Sans", "Noto Sans CJK JP", sans-serif' fill="#222">15.0</text>
<text x="440.85" y="592.20" font-size="9.6" text-anchor="middle" font-family='"Liberation Sans", "Noto Sans CJK JP", sans-serif' fill="#222">7.5</text>
<text x="485.20" y="592.20" font-size="9.6" text-anchor="middle" font-family='"Liberation Sans", "Noto Sans CJK JP", sans-serif' fill="#222">13.6</text>
<text x="528.60" y="592.20" font-size="9.6" text-anchor="middle" font-family='"Liberation Sans", "Noto Sans CJK JP", sans-serif' fill="#222">24.1</text>
<text x="565.20" y="592.20" font-size="9.6" text-anchor="middle" font-family='"Liberation Sans", "Noto Sans CJK JP", sans-serif' fill="#222">0.55</text>
<text x="597.25" y="592.20" font-size="9.6" text-anchor="middle" font-family='"Liberation Sans", "Noto Sans CJK JP", sans-serif' fill="#222">0.56</text>
<text x="632.75" y="592.20" font-size="9.6" text-anchor="middle" font-family='"Liberation Sans", "Noto Sans CJK JP", sans-serif' fill="#222">17.1</text>
<text x="659.34" y="591.83" font-size="8.56" text-anchor="start" font-family='"Liberation Sans", "Noto Sans CJK JP", sans-serif' fill="#222" textLength="20.65" lengthAdjust="spacingAndGlyphs">先中</text>
<text x="48.31" y="603.70" font-size="9.5" text-anchor="start" font-family='"Liberation Sans", "Noto Sans CJK JP", sans-serif' fill="#222" textLength="65.95" lengthAdjust="spacingAndGlyphs">TRW588S(60S)</text>
<text x="141.35" y="603.90" font-size="9.6" text-anchor="middle" font-family='"Liberation Sans", "Noto Sans CJK JP", sans-serif' fill="#222">1,168</text>
<text x="170.50" y="603.90" font-size="9.6" text-anchor="middle" font-family='"Liberation Sans", "Noto Sans CJK JP", sans-serif' fill="#222">58.5</text>
<text x="200.30" y="603.90" font-size="9.6" text-anchor="middle" font-family='"Liberation Sans", "Noto Sans CJK JP", sans-serif' fill="#222">3.6</text>
<text x="238.80" y="603.90" font-size="9.6" text-anchor="middle" font-family='"Liberation Sans", "Noto Sans CJK JP", sans-serif' fill="#222">13.0</text>
<text x="275.40" y="603.90" font-size="9.6" text-anchor="middle" font-family='"Liberation Sans", "Noto Sans CJK JP", sans-serif' fill="#222">53.5</text>
<text x="310.45" y="603.90" font-size="9.6" text-anchor="middle" font-family='"Liberation Sans", "Noto Sans CJK JP", sans-serif' fill="#222">8.5</text>
<text x="355.35" y="603.90" font-size="9.6" text-anchor="middle" font-family='"Liberation Sans", "Noto Sans CJK JP", sans-serif' fill="#222">14.9</text>
<text x="399.95" y="603.90" font-size="9.6" text-anchor="middle" font-family='"Liberation Sans", "Noto Sans CJK JP", sans-serif' fill="#222">15.1</text>
<text x="440.85" y="603.90" font-size="9.6" text-anchor="middle" font-family='"Liberation Sans", "Noto Sans CJK JP", sans-serif' fill="#222">8.9</text>
<text x="485.20" y="603.90" font-size="9.6" text-anchor="middle" font-family='"Liberation Sans", "Noto Sans CJK JP", sans-serif' fill="#222">16.0</text>
<text x="528.60" y="603.90" font-size="9.6" text-anchor="middle" font-family='"Liberation Sans", "Noto Sans CJK JP", sans-serif' fill="#222">27.7</text>
<text x="565.20" y="603.90" font-size="9.6" text-anchor="middle" font-family='"Liberation Sans", "Noto Sans CJK JP", sans-serif' fill="#222">0.56</text>
<text x="597.25" y="603.90" font-size="9.6" text-anchor="middle" font-family='"Liberation Sans", "Noto Sans CJK JP", sans-serif' fill="#222">0.58</text>
<text x="632.75" y="603.90" font-size="9.6" text-anchor="middle" font-family='"Liberation Sans", "Noto Sans CJK JP", sans-serif' fill="#222">18.0</text>
<text x="659.34" y="603.53" font-size="8.56" text-anchor="start" font-family='"Liberation Sans", "Noto Sans CJK JP", sans-serif' fill="#222" textLength="20.65" lengthAdjust="spacingAndGlyphs">先中</text>
<text x="48.31" y="615.50" font-size="9.5" text-anchor="start" font-family='"Liberation Sans", "Noto Sans CJK JP", sans-serif' fill="#222" textLength="65.95" lengthAdjust="spacingAndGlyphs">TRW588X(60X)</text>
<text x="141.35" y="615.70" font-size="9.6" text-anchor="middle" font-family='"Liberation Sans", "Noto Sans CJK JP", sans-serif' fill="#222">1,168</text>
<text x="170.50" y="615.70" font-size="9.6" text-anchor="middle" font-family='"Liberation Sans", "Noto Sans CJK JP", sans-serif' fill="#222">62.0</text>
<text x="200.30" y="615.70" font-size="9.6" text-anchor="middle" font-family='"Liberation Sans", "Noto Sans CJK JP", sans-serif' fill="#222">3.6</text>
<text x="238.80" y="615.70" font-size="9.6" text-anchor="middle" font-family='"Liberation Sans", "Noto Sans CJK JP", sans-serif' fill="#222">14.0</text>
<text x="275.40" y="615.70" font-size="9.6" text-anchor="middle" font-family='"Liberation Sans", "Noto Sans CJK JP", sans-serif' fill="#222">53.3</text>
<text x="310.45" y="615.70" font-size="9.6" text-anchor="middle" font-family='"Liberation Sans", "Noto Sans CJK JP", sans-serif' fill="#222">8.5</text>
<text x="355.35" y="615.70" font-size="9.6" text-anchor="middle" font-family='"Liberation Sans", "Noto Sans CJK JP", sans-serif' fill="#222">15.0</text>
<text x="399.95" y="615.70" font-size="9.6" text-anchor="middle" font-family='"Liberation Sans", "Noto Sans CJK JP", sans-serif' fill="#222">15.1</text>
<text x="440.85" y="615.70" font-size="9.6" text-anchor="middle" font-family='"Liberation Sans", "Noto Sans CJK JP", sans-serif' fill="#222">10.1</text>
<text x="485.20" y="615.70" font-size="9.6" text-anchor="middle" font-family='"Liberation Sans", "Noto Sans CJK JP", sans-serif' fill="#222">17.0</text>
<text x="528.60" y="615.70" font-size="9.6" text-anchor="middle" font-family='"Liberation Sans", "Noto Sans CJK JP", sans-serif' fill="#222">29.2</text>
<text x="565.20" y="615.70" font-size="9.6" text-anchor="middle" font-family='"Liberation Sans", "Noto Sans CJK JP", sans-serif' fill="#222">0.59</text>
<text x="597.25" y="615.70" font-size="9.6" text-anchor="middle" font-family='"Liberation Sans", "Noto Sans CJK JP", sans-serif' fill="#222">0.58</text>
<text x="632.75" y="615.70" font-size="9.6" text-anchor="middle" font-family='"Liberation Sans", "Noto Sans CJK JP", sans-serif' fill="#222">20.4</text>
<text x="663.90" y="615.37" font-size="8.6" text-anchor="start" font-family='"Liberation Sans", "Noto Sans CJK JP", sans-serif' fill="#222" textLength="11.60" lengthAdjust="spacingAndGlyphs">中</text>
<text x="42.61" y="626.90" font-size="9.5" text-anchor="start" font-family='"Liberation Sans", "Noto Sans CJK JP", sans-serif' fill="#222" textLength="76.71" lengthAdjust="spacingAndGlyphs">TRW588TX(60TX)</text>
<text x="141.35" y="627.10" font-size="9.6" text-anchor="middle" font-family='"Liberation Sans", "Noto Sans CJK JP", sans-serif' fill="#222">1,168</text>
<text x="170.50" y="627.10" font-size="9.6" text-anchor="middle" font-family='"Liberation Sans", "Noto Sans CJK JP", sans-serif' fill="#222">63.0</text>
<text x="200.30" y="627.10" font-size="9.6" text-anchor="middle" font-family='"Liberation Sans", "Noto Sans CJK JP", sans-serif' fill="#222">3.5</text>
<text x="238.80" y="627.10" font-size="9.6" text-anchor="middle" font-family='"Liberation Sans", "Noto Sans CJK JP", sans-serif' fill="#222">15.0</text>
<text x="275.40" y="627.10" font-size="9.6" text-anchor="middle" font-family='"Liberation Sans", "Noto Sans CJK JP", sans-serif' fill="#222">53.7</text>
<text x="310.45" y="627.10" font-size="9.6" text-anchor="middle" font-family='"Liberation Sans", "Noto Sans CJK JP", sans-serif' fill="#222">8.5</text>
<text x="355.35" y="627.10" font-size="9.6" text-anchor="middle" font-family='"Liberation Sans", "Noto Sans CJK JP", sans-serif' fill="#222">15.0</text>
<text x="399.95" y="627.10" font-size="9.6" text-anchor="middle" font-family='"Liberation Sans", "Noto Sans CJK JP", sans-serif' fill="#222">15.2</text>
<text x="440.85" y="627.10" font-size="9.6" text-anchor="middle" font-family='"Liberation Sans", "Noto Sans CJK JP", sans-serif' fill="#222">11.0</text>
<text x="485.20" y="627.10" font-size="9.6" text-anchor="middle" font-family='"Liberation Sans", "Noto Sans CJK JP", sans-serif' fill="#222">18.4</text>
<text x="528.60" y="627.10" font-size="9.6" text-anchor="middle" font-family='"Liberation Sans", "Noto Sans CJK JP", sans-serif' fill="#222">31.3</text>
<text x="565.20" y="627.10" font-size="9.6" text-anchor="middle" font-family='"Liberation Sans", "Noto Sans CJK JP", sans-serif' fill="#222">0.60</text>
<text x="597.25" y="627.10" font-size="9.6" text-anchor="middle" font-family='"Liberation Sans", "Noto Sans CJK JP", sans-serif' fill="#222">0.59</text>
<text x="632.75" y="627.10" font-size="9.6" text-anchor="middle" font-family='"Liberation Sans", "Noto Sans CJK JP", sans-serif' fill="#222">21.1</text>
<text x="663.90" y="626.77" font-size="8.6" text-anchor="start" font-family='"Liberation Sans", "Noto Sans CJK JP", sans-serif' fill="#222" textLength="11.60" lengthAdjust="spacingAndGlyphs">中</text>
<text x="160.20" y="639.00" font-size="8" text-anchor="start" font-family='"Liberation Sans", "Noto Sans CJK JP", sans-serif' fill="#222" textLength="2.70" lengthAdjust="spacingAndGlyphs" stroke="#222" stroke-width="0.3">*</text>
<text x="164.19" y="639.10" font-size="9.3" text-anchor="start" font-family='"Liberation Sans", "Noto Sans CJK JP", sans-serif' fill="#222" textLength="40.66" lengthAdjust="spacingAndGlyphs">素管重量</text>
<text x="293.03" y="638.50" font-size="9" text-anchor="start" font-family='"Liberation Sans", "Noto Sans CJK JP", sans-serif' fill="#222" textLength="11.74" lengthAdjust="spacingAndGlyphs">Tip</text>
<text x="305.18" y="639.10" font-size="9.3" text-anchor="start" font-family='"Liberation Sans", "Noto Sans CJK JP", sans-serif' fill="#222" textLength="20.66" lengthAdjust="spacingAndGlyphs">バラ</text>
<text x="324.20" y="638.60" font-size="9" text-anchor="start" font-family='"Liberation Sans", "Noto Sans CJK JP", sans-serif' fill="#222" textLength="5.56" lengthAdjust="spacingAndGlyphs">:</text>
<text x="329.11" y="638.60" font-size="8.5" text-anchor="start" font-family='"Liberation Sans", "Noto Sans CJK JP", sans-serif' fill="#222" textLength="26.80" lengthAdjust="spacingAndGlyphs">80mm</text>
<line x1="55.80" y1="163.00" x2="671.40" y2="163.00" stroke="#c9c9c9" stroke-width="1.3"/>
<line x1="55.80" y1="489.00" x2="671.40" y2="489.00" stroke="#cfcfcf" stroke-width="1.2"/>
<line x1="56.50" y1="163.00" x2="56.50" y2="489.00" stroke="#b2b2b2" stroke-width="1.5"/>
<line x1="670.70" y1="163.00" x2="670.70" y2="489.00" stroke="#b2b2b2" stroke-width="1.6"/>
<text x="285.64" y="186.38" font-size="16.23" text-anchor="start" font-family='"Liberation Sans", "Noto Sans CJK JP", sans-serif' font-weight="500" fill="#1a1a1a" textLength="157.45" lengthAdjust="spacingAndGlyphs">シャフト測定荷重グラフ</text>
<line x1="109.70" y1="411.90" x2="604.00" y2="411.90" stroke="#9a9a9a" stroke-width="1.0"/>
<line x1="109.70" y1="382.60" x2="604.00" y2="382.60" stroke="#9a9a9a" stroke-width="1.0"/>
<line x1="109.70" y1="351.60" x2="604.00" y2="351.60" stroke="#9a9a9a" stroke-width="1.0"/>
<line x1="109.70" y1="322.00" x2="604.00" y2="322.00" stroke="#9a9a9a" stroke-width="1.0"/>
<line x1="109.70" y1="290.90" x2="604.00" y2="290.90" stroke="#9a9a9a" stroke-width="1.0"/>
<line x1="109.70" y1="260.30" x2="604.00" y2="260.30" stroke="#9a9a9a" stroke-width="1.0"/>
<line x1="109.70" y1="228.60" x2="604.00" y2="228.60" stroke="#9a9a9a" stroke-width="1.0"/>
<line x1="109.70" y1="199.70" x2="604.00" y2="199.70" stroke="#9a9a9a" stroke-width="1.0"/>
<line x1="604.00" y1="199.70" x2="604.00" y2="442.40" stroke="#777" stroke-width="1.2"/>
<line x1="109.70" y1="199.70" x2="109.70" y2="443.10" stroke="#555" stroke-width="1.5"/>
<line x1="109.00" y1="442.40" x2="604.00" y2="442.40" stroke="#555" stroke-width="1.5"/>
<line x1="174.28" y1="437.90" x2="174.28" y2="442.40" stroke="#777" stroke-width="1.0"/>
<line x1="238.85" y1="437.90" x2="238.85" y2="442.40" stroke="#777" stroke-width="1.0"/>
<line x1="303.43" y1="437.90" x2="303.43" y2="442.40" stroke="#777" stroke-width="1.0"/>
<line x1="368.00" y1="437.90" x2="368.00" y2="442.40" stroke="#777" stroke-width="1.0"/>
<line x1="432.57" y1="437.90" x2="432.57" y2="442.40" stroke="#777" stroke-width="1.0"/>
<line x1="497.15" y1="437.90" x2="497.15" y2="442.40" stroke="#777" stroke-width="1.0"/>
<line x1="561.73" y1="437.90" x2="561.73" y2="442.40" stroke="#777" stroke-width="1.0"/>
<text x="97.30" y="446.20" font-size="10" text-anchor="end" font-family='"Liberation Sans", "Noto Sans CJK JP", sans-serif' font-weight="bold" fill="#333">0</text>
<text x="97.30" y="415.70" font-size="10" text-anchor="end" font-family='"Liberation Sans", "Noto Sans CJK JP", sans-serif' font-weight="bold" fill="#333">4</text>
<text x="97.30" y="386.40" font-size="10" text-anchor="end" font-family='"Liberation Sans", "Noto Sans CJK JP", sans-serif' font-weight="bold" fill="#333">8</text>
<text x="97.30" y="355.40" font-size="10" text-anchor="end" font-family='"Liberation Sans", "Noto Sans CJK JP", sans-serif' font-weight="bold" fill="#333">12</text>
<text x="97.30" y="325.80" font-size="10" text-anchor="end" font-family='"Liberation Sans", "Noto Sans CJK JP", sans-serif' font-weight="bold" fill="#333">16</text>
<text x="97.30" y="294.70" font-size="10" text-anchor="end" font-family='"Liberation Sans", "Noto Sans CJK JP", sans-serif' font-weight="bold" fill="#333">20</text>
<text x="97.30" y="264.10" font-size="10" text-anchor="end" font-family='"Liberation Sans", "Noto Sans CJK JP", sans-serif' font-weight="bold" fill="#333">24</text>
<text x="97.30" y="232.40" font-size="10" text-anchor="end" font-family='"Liberation Sans", "Noto Sans CJK JP", sans-serif' font-weight="bold" fill="#333">28</text>
<text x="97.30" y="203.50" font-size="10" text-anchor="end" font-family='"Liberation Sans", "Noto Sans CJK JP", sans-serif' font-weight="bold" fill="#333">32</text>
<text x="109.70" y="459.00" font-size="10" text-anchor="middle" font-family='"Liberation Sans", "Noto Sans CJK JP", sans-serif' font-weight="bold" fill="#333">0</text>
<text x="174.28" y="459.00" font-size="10" text-anchor="middle" font-family='"Liberation Sans", "Noto Sans CJK JP", sans-serif' font-weight="bold" fill="#333">150</text>
<text x="238.85" y="459.00" font-size="10" text-anchor="middle" font-family='"Liberation Sans", "Noto Sans CJK JP", sans-serif' font-weight="bold" fill="#333">300</text>
<text x="303.43" y="459.00" font-size="10" text-anchor="middle" font-family='"Liberation Sans", "Noto Sans CJK JP", sans-serif' font-weight="bold" fill="#333">450</text>
<text x="368.00" y="459.00" font-size="10" text-anchor="middle" font-family='"Liberation Sans", "Noto Sans CJK JP", sans-serif' font-weight="bold" fill="#333">600</text>
<text x="432.57" y="459.00" font-size="10" text-anchor="middle" font-family='"Liberation Sans", "Noto Sans CJK JP", sans-serif' font-weight="bold" fill="#333">750</text>
<text x="497.15" y="459.00" font-size="10" text-anchor="middle" font-family='"Liberation Sans", "Noto Sans CJK JP", sans-serif' font-weight="bold" fill="#333">900</text>
<text x="561.73" y="459.00" font-size="10" text-anchor="middle" font-family='"Liberation Sans", "Noto Sans CJK JP", sans-serif' font-weight="bold" fill="#333">1050</text>
<text x="316.75" y="478.59" font-size="13.4" text-anchor="start" font-family='"Liberation Sans", "Noto Sans CJK JP", sans-serif' font-weight="500" fill="#1a1a1a" textLength="59.64" lengthAdjust="spacingAndGlyphs">計測位置</text>
<text x="376.01" y="479.07" font-size="13.48" text-anchor="start" font-family='"Liberation Sans", "Noto Sans CJK JP", sans-serif' fill="#1a1a1a" textLength="19.81" lengthAdjust="spacingAndGlyphs" stroke="#1a1a1a" stroke-width="0.4">Tip</text>
<text x="394.86" y="478.98" font-size="13.64" text-anchor="start" font-family='"Liberation Sans", "Noto Sans CJK JP", sans-serif' font-weight="500" fill="#1a1a1a" textLength="23.00" lengthAdjust="spacingAndGlyphs">より</text>
<text x="428.46" y="478.85" font-size="14.55" text-anchor="start" font-family='"Liberation Sans", "Noto Sans CJK JP", sans-serif' fill="#1a1a1a" textLength="28.64" lengthAdjust="spacingAndGlyphs" stroke="#1a1a1a" stroke-width="0.4">(mm)</text>
<g transform="translate(79.4 363.60) rotate(-90)">
<text x="-0.41" y="0.00" font-size="14.2" text-anchor="start" font-family='"Liberation Sans", "Noto Sans CJK JP", sans-serif' font-weight="500" fill="#1a1a1a" textLength="54.93" lengthAdjust="spacingAndGlyphs">測定荷重</text>
<text x="54.09" y="-2.30" font-size="11.8" text-anchor="start" font-family='"Liberation Sans", "Noto Sans CJK JP", sans-serif' fill="#1a1a1a" textLength="32.88" lengthAdjust="spacingAndGlyphs" stroke="#1a1a1a" stroke-width="0.3">(Kgf)</text>
</g>
<path d="M174.28 393.90 L195.80 395.26 L217.32 393.90 L238.85 391.10 L260.38 387.54 L281.90 381.40 L303.43 373.07 L324.95 365.27 L346.48 357.54 L368.00 349.05 L389.52 340.72 L411.05 331.78 L432.57 322.09 L454.10 308.68 L475.62 295.80 L497.15 284.44 L518.67 277.62 L540.20 273.08" fill="none" stroke="#6189c4" stroke-width="1.1" stroke-linejoin="round"/>
<path d="M174.28 391.50L176.18 393.90L174.28 396.30L172.38 393.90Z" fill="#fff" stroke="#6189c4" stroke-width="1.0"/>
<path d="M195.80 392.86L197.70 395.26L195.80 397.66L193.90 395.26Z" fill="#fff" stroke="#6189c4" stroke-width="1.0"/>
<path d="M217.32 391.50L219.22 393.90L217.32 396.30L215.42 393.90Z" fill="#fff" stroke="#6189c4" stroke-width="1.0"/>
<path d="M238.85 388.70L240.75 391.10L238.85 393.50L236.95 391.10Z" fill="#fff" stroke="#6189c4" stroke-width="1.0"/>
<path d="M260.38 385.14L262.27 387.54L260.38 389.94L258.48 387.54Z" fill="#fff" stroke="#6189c4" stroke-width="1.0"/>
<path d="M281.90 379.00L283.80 381.40L281.90 383.80L280.00 381.40Z" fill="#fff" stroke="#6189c4" stroke-width="1.0"/>
<path d="M303.43 370.67L305.32 373.07L303.43 375.47L301.53 373.07Z" fill="#fff" stroke="#6189c4" stroke-width="1.0"/>
<path d="M324.95 362.87L326.85 365.27L324.95 367.67L323.05 365.27Z" fill="#fff" stroke="#6189c4" stroke-width="1.0"/>
<path d="M346.48 355.14L348.38 357.54L346.48 359.94L344.58 357.54Z" fill="#fff" stroke="#6189c4" stroke-width="1.0"/>
<path d="M368.00 346.65L369.90 349.05L368.00 351.45L366.10 349.05Z" fill="#fff" stroke="#6189c4" stroke-width="1.0"/>
<path d="M389.52 338.32L391.42 340.72L389.52 343.12L387.62 340.72Z" fill="#fff" stroke="#6189c4" stroke-width="1.0"/>
<path d="M411.05 329.38L412.95 331.78L411.05 334.18L409.15 331.78Z" fill="#fff" stroke="#6189c4" stroke-width="1.0"/>
<path d="M432.57 319.69L434.47 322.09L432.57 324.49L430.68 322.09Z" fill="#fff" stroke="#6189c4" stroke-width="1.0"/>
<path d="M454.10 306.28L456.00 308.68L454.10 311.08L452.20 308.68Z" fill="#fff" stroke="#6189c4" stroke-width="1.0"/>
<path d="M475.62 293.40L477.52 295.80L475.62 298.20L473.73 295.80Z" fill="#fff" stroke="#6189c4" stroke-width="1.0"/>
<path d="M497.15 282.04L499.05 284.44L497.15 286.84L495.25 284.44Z" fill="#fff" stroke="#6189c4" stroke-width="1.0"/>
<path d="M518.67 275.22L520.57 277.62L518.67 280.02L516.77 277.62Z" fill="#fff" stroke="#6189c4" stroke-width="1.0"/>
<path d="M540.20 270.68L542.10 273.08L540.20 275.48L538.30 273.08Z" fill="#fff" stroke="#6189c4" stroke-width="1.0"/>
<path d="M174.28 384.73 L195.80 383.07 L217.32 379.73 L238.85 377.54 L260.38 375.26 L281.90 369.73 L303.43 361.02 L324.95 352.46 L346.48 340.87 L368.00 330.34 L389.52 321.71 L411.05 308.07 L432.57 293.83 L454.10 280.65 L475.62 267.02 L497.15 256.41 L518.67 254.14 L540.20 248.84" fill="none" stroke="#1c2657" stroke-width="1.1" stroke-linejoin="round"/>
<rect x="172.12" y="382.58" width="4.30" height="4.30" fill="#e4e8f2" stroke="#1c2657" stroke-width="1.3"/>
<rect x="193.65" y="380.92" width="4.30" height="4.30" fill="#e4e8f2" stroke="#1c2657" stroke-width="1.3"/>
<rect x="215.17" y="377.58" width="4.30" height="4.30" fill="#e4e8f2" stroke="#1c2657" stroke-width="1.3"/>
<rect x="236.70" y="375.39" width="4.30" height="4.30" fill="#e4e8f2" stroke="#1c2657" stroke-width="1.3"/>
<rect x="258.23" y="373.11" width="4.30" height="4.30" fill="#e4e8f2" stroke="#1c2657" stroke-width="1.3"/>
<rect x="279.75" y="367.58" width="4.30" height="4.30" fill="#e4e8f2" stroke="#1c2657" stroke-width="1.3"/>
<rect x="301.28" y="358.87" width="4.30" height="4.30" fill="#e4e8f2" stroke="#1c2657" stroke-width="1.3"/>
<rect x="322.80" y="350.31" width="4.30" height="4.30" fill="#e4e8f2" stroke="#1c2657" stroke-width="1.3"/>
<rect x="344.33" y="338.72" width="4.30" height="4.30" fill="#e4e8f2" stroke="#1c2657" stroke-width="1.3"/>
<rect x="365.85" y="328.19" width="4.30" height="4.30" fill="#e4e8f2" stroke="#1c2657" stroke-width="1.3"/>
<rect x="387.38" y="319.56" width="4.30" height="4.30" fill="#e4e8f2" stroke="#1c2657" stroke-width="1.3"/>
<rect x="408.90" y="305.92" width="4.30" height="4.30" fill="#e4e8f2" stroke="#1c2657" stroke-width="1.3"/>
<rect x="430.43" y="291.68" width="4.30" height="4.30" fill="#e4e8f2" stroke="#1c2657" stroke-width="1.3"/>
<rect x="451.95" y="278.50" width="4.30" height="4.30" fill="#e4e8f2" stroke="#1c2657" stroke-width="1.3"/>
<rect x="473.48" y="264.87" width="4.30" height="4.30" fill="#e4e8f2" stroke="#1c2657" stroke-width="1.3"/>
<rect x="495.00" y="254.26" width="4.30" height="4.30" fill="#e4e8f2" stroke="#1c2657" stroke-width="1.3"/>
<rect x="516.52" y="251.99" width="4.30" height="4.30" fill="#e4e8f2" stroke="#1c2657" stroke-width="1.3"/>
<rect x="538.05" y="246.69" width="4.30" height="4.30" fill="#e4e8f2" stroke="#1c2657" stroke-width="1.3"/>
<path d="M174.28 380.04 L195.80 375.26 L217.32 370.80 L238.85 369.73 L260.38 366.02 L281.90 361.02 L303.43 350.72 L324.95 342.31 L346.48 332.16 L368.00 320.35 L389.52 308.68 L411.05 296.03 L432.57 282.92 L454.10 269.29 L475.62 254.14 L497.15 245.05 L518.67 236.72 L540.20 232.17" fill="none" stroke="#e2483e" stroke-width="1.1" stroke-linejoin="round"/>
<path d="M174.28 377.64L176.68 381.96L171.88 381.96Z" fill="#f7c0ba" stroke="#e2483e" stroke-width="1.0"/>
<path d="M195.80 372.86L198.20 377.18L193.40 377.18Z" fill="#f7c0ba" stroke="#e2483e" stroke-width="1.0"/>
<path d="M217.32 368.40L219.72 372.72L214.92 372.72Z" fill="#f7c0ba" stroke="#e2483e" stroke-width="1.0"/>
<path d="M238.85 367.33L241.25 371.65L236.45 371.65Z" fill="#f7c0ba" stroke="#e2483e" stroke-width="1.0"/>
<path d="M260.38 363.62L262.77 367.94L257.98 367.94Z" fill="#f7c0ba" stroke="#e2483e" stroke-width="1.0"/>
<path d="M281.90 358.62L284.30 362.94L279.50 362.94Z" fill="#f7c0ba" stroke="#e2483e" stroke-width="1.0"/>
<path d="M303.43 348.32L305.82 352.64L301.03 352.64Z" fill="#f7c0ba" stroke="#e2483e" stroke-width="1.0"/>
<path d="M324.95 339.91L327.35 344.23L322.55 344.23Z" fill="#f7c0ba" stroke="#e2483e" stroke-width="1.0"/>
<path d="M346.48 329.76L348.88 334.08L344.08 334.08Z" fill="#f7c0ba" stroke="#e2483e" stroke-width="1.0"/>
<path d="M368.00 317.95L370.40 322.27L365.60 322.27Z" fill="#f7c0ba" stroke="#e2483e" stroke-width="1.0"/>
<path d="M389.52 306.28L391.92 310.60L387.12 310.60Z" fill="#f7c0ba" stroke="#e2483e" stroke-width="1.0"/>
<path d="M411.05 293.63L413.45 297.95L408.65 297.95Z" fill="#f7c0ba" stroke="#e2483e" stroke-width="1.0"/>
<path d="M432.57 280.52L434.97 284.84L430.18 284.84Z" fill="#f7c0ba" stroke="#e2483e" stroke-width="1.0"/>
<path d="M454.10 266.89L456.50 271.21L451.70 271.21Z" fill="#f7c0ba" stroke="#e2483e" stroke-width="1.0"/>
<path d="M475.62 251.74L478.02 256.06L473.23 256.06Z" fill="#f7c0ba" stroke="#e2483e" stroke-width="1.0"/>
<path d="M497.15 242.65L499.55 246.97L494.75 246.97Z" fill="#f7c0ba" stroke="#e2483e" stroke-width="1.0"/>
<path d="M518.67 234.32L521.07 238.64L516.27 238.64Z" fill="#f7c0ba" stroke="#e2483e" stroke-width="1.0"/>
<path d="M540.20 229.77L542.60 234.09L537.80 234.09Z" fill="#f7c0ba" stroke="#e2483e" stroke-width="1.0"/>
<path d="M174.28 375.79 L195.80 370.26 L217.32 364.13 L238.85 361.86 L260.38 358.22 L281.90 351.25 L303.43 341.86 L324.95 331.78 L346.48 321.33 L368.00 309.13 L389.52 297.47 L411.05 285.20 L432.57 270.80 L454.10 254.14 L475.62 238.99 L497.15 227.63 L518.67 220.81 L540.20 217.02" fill="none" stroke="#52a85a" stroke-width="1.1" stroke-linejoin="round"/>
<path d="M172.18 373.69L176.38 377.89M176.38 373.69L172.18 377.89" stroke="#52a85a" stroke-width="1.0" fill="none"/>
<path d="M193.70 368.16L197.90 372.36M197.90 368.16L193.70 372.36" stroke="#52a85a" stroke-width="1.0" fill="none"/>
<path d="M215.22 362.03L219.42 366.23M219.42 362.03L215.22 366.23" stroke="#52a85a" stroke-width="1.0" fill="none"/>
<path d="M236.75 359.76L240.95 363.96M240.95 359.76L236.75 363.96" stroke="#52a85a" stroke-width="1.0" fill="none"/>
<path d="M258.27 356.12L262.48 360.32M262.48 356.12L258.27 360.32" stroke="#52a85a" stroke-width="1.0" fill="none"/>
<path d="M279.80 349.15L284.00 353.35M284.00 349.15L279.80 353.35" stroke="#52a85a" stroke-width="1.0" fill="none"/>
<path d="M301.32 339.76L305.53 343.96M305.53 339.76L301.32 343.96" stroke="#52a85a" stroke-width="1.0" fill="none"/>
<path d="M322.85 329.68L327.05 333.88M327.05 329.68L322.85 333.88" stroke="#52a85a" stroke-width="1.0" fill="none"/>
<path d="M344.38 319.23L348.58 323.43M348.58 319.23L344.38 323.43" stroke="#52a85a" stroke-width="1.0" fill="none"/>
<path d="M365.90 307.03L370.10 311.23M370.10 307.03L365.90 311.23" stroke="#52a85a" stroke-width="1.0" fill="none"/>
<path d="M387.42 295.37L391.62 299.57M391.62 295.37L387.42 299.57" stroke="#52a85a" stroke-width="1.0" fill="none"/>
<path d="M408.95 283.10L413.15 287.30M413.15 283.10L408.95 287.30" stroke="#52a85a" stroke-width="1.0" fill="none"/>
<path d="M430.47 268.70L434.68 272.90M434.68 268.70L430.47 272.90" stroke="#52a85a" stroke-width="1.0" fill="none"/>
<path d="M452.00 252.04L456.20 256.24M456.20 252.04L452.00 256.24" stroke="#52a85a" stroke-width="1.0" fill="none"/>
<path d="M473.52 236.89L477.73 241.09M477.73 236.89L473.52 241.09" stroke="#52a85a" stroke-width="1.0" fill="none"/>
<path d="M495.05 225.53L499.25 229.73M499.25 225.53L495.05 229.73" stroke="#52a85a" stroke-width="1.0" fill="none"/>
<path d="M516.57 218.71L520.77 222.91M520.77 218.71L516.57 222.91" stroke="#52a85a" stroke-width="1.0" fill="none"/>
<path d="M538.10 214.92L542.30 219.12M542.30 214.92L538.10 219.12" stroke="#52a85a" stroke-width="1.0" fill="none"/>
<rect x="507.4" y="313.8" width="143.30000000000007" height="98.5" fill="#fff" stroke="#999" stroke-width="1.1"/>
<line x1="529.40" y1="326.30" x2="548.40" y2="326.30" stroke="#6189c4" stroke-width="1.3"/>
<path d="M538.90 323.90L540.80 326.30L538.90 328.70L537.00 326.30Z" fill="#fff" stroke="#6189c4" stroke-width="1.0"/>
<text x="550.92" y="329.70" font-size="9.3" text-anchor="start" font-family='"Liberation Sans", "Noto Sans CJK JP", sans-serif' fill="#1a1a1a" textLength="65.64" lengthAdjust="spacingAndGlyphs" stroke="#1a1a1a" stroke-width="0.2">TRW590R(50R)</text>
<line x1="529.40" y1="351.30" x2="548.40" y2="351.30" stroke="#1c2657" stroke-width="1.3"/>
<rect x="536.75" y="349.15" width="4.30" height="4.30" fill="#e4e8f2" stroke="#1c2657" stroke-width="1.3"/>
<text x="550.91" y="354.70" font-size="9.3" text-anchor="start" font-family='"Liberation Sans", "Noto Sans CJK JP", sans-serif' fill="#1a1a1a" textLength="65.64" lengthAdjust="spacingAndGlyphs" stroke="#1a1a1a" stroke-width="0.2">TRW590S(50S)</text>
<line x1="529.40" y1="376.60" x2="548.40" y2="376.60" stroke="#e2483e" stroke-width="1.3"/>
<path d="M538.90 374.20L541.30 378.52L536.50 378.52Z" fill="#f7c0ba" stroke="#e2483e" stroke-width="1.0"/>
<text x="550.91" y="380.00" font-size="9.3" text-anchor="start" font-family='"Liberation Sans", "Noto Sans CJK JP", sans-serif' fill="#1a1a1a" textLength="65.64" lengthAdjust="spacingAndGlyphs" stroke="#1a1a1a" stroke-width="0.2">TRW590X(50X)</text>
<line x1="529.40" y1="402.20" x2="548.40" y2="402.20" stroke="#52a85a" stroke-width="1.3"/>
<path d="M536.80 400.10L541.00 404.30M541.00 400.10L536.80 404.30" stroke="#52a85a" stroke-width="1.0" fill="none"/>
<text x="550.91" y="405.60" font-size="9.3" text-anchor="start" font-family='"Liberation Sans", "Noto Sans CJK JP", sans-serif' fill="#1a1a1a" textLength="78.63" lengthAdjust="spacingAndGlyphs" stroke="#1a1a1a" stroke-width="0.2">TRW590TX(50TX)</text>
<line x1="55.80" y1="660.30" x2="671.40" y2="660.30" stroke="#c9c9c9" stroke-width="1.3"/>
<line x1="55.80" y1="986.50" x2="671.40" y2="986.50" stroke="#cfcfcf" stroke-width="1.2"/>
<line x1="56.50" y1="660.30" x2="56.50" y2="986.50" stroke="#b2b2b2" stroke-width="1.5"/>
<line x1="670.70" y1="660.30" x2="670.70" y2="986.50" stroke="#b2b2b2" stroke-width="1.6"/>
<text x="285.64" y="683.98" font-size="16.23" text-anchor="start" font-family='"Liberation Sans", "Noto Sans CJK JP", sans-serif' font-weight="500" fill="#1a1a1a" textLength="157.45" lengthAdjust="spacingAndGlyphs">シャフト測定荷重グラフ</text>
<line x1="109.70" y1="914.50" x2="603.50" y2="914.50" stroke="#9a9a9a" stroke-width="1.0"/>
<line x1="109.70" y1="888.10" x2="603.50" y2="888.10" stroke="#9a9a9a" stroke-width="1.0"/>
<line x1="109.70" y1="860.50" x2="603.50" y2="860.50" stroke="#9a9a9a" stroke-width="1.0"/>
<line x1="109.70" y1="833.70" x2="603.50" y2="833.70" stroke="#9a9a9a" stroke-width="1.0"/>
<line x1="109.70" y1="805.40" x2="603.50" y2="805.40" stroke="#9a9a9a" stroke-width="1.0"/>
<line x1="109.70" y1="778.50" x2="603.50" y2="778.50" stroke="#9a9a9a" stroke-width="1.0"/>
<line x1="109.70" y1="752.30" x2="603.50" y2="752.30" stroke="#9a9a9a" stroke-width="1.0"/>
<line x1="109.70" y1="724.30" x2="603.50" y2="724.30" stroke="#9a9a9a" stroke-width="1.0"/>
<line x1="109.70" y1="697.70" x2="603.50" y2="697.70" stroke="#9a9a9a" stroke-width="1.0"/>
<line x1="603.50" y1="697.70" x2="603.50" y2="940.90" stroke="#777" stroke-width="1.2"/>
<line x1="109.70" y1="697.70" x2="109.70" y2="941.60" stroke="#555" stroke-width="1.5"/>
<line x1="109.00" y1="940.90" x2="603.50" y2="940.90" stroke="#555" stroke-width="1.5"/>
<line x1="174.28" y1="936.40" x2="174.28" y2="940.90" stroke="#777" stroke-width="1.0"/>
<line x1="238.85" y1="936.40" x2="238.85" y2="940.90" stroke="#777" stroke-width="1.0"/>
<line x1="303.43" y1="936.40" x2="303.43" y2="940.90" stroke="#777" stroke-width="1.0"/>
<line x1="368.00" y1="936.40" x2="368.00" y2="940.90" stroke="#777" stroke-width="1.0"/>
<line x1="432.57" y1="936.40" x2="432.57" y2="940.90" stroke="#777" stroke-width="1.0"/>
<line x1="497.15" y1="936.40" x2="497.15" y2="940.90" stroke="#777" stroke-width="1.0"/>
<line x1="561.73" y1="936.40" x2="561.73" y2="940.90" stroke="#777" stroke-width="1.0"/>
<text x="97.30" y="944.70" font-size="10" text-anchor="end" font-family='"Liberation Sans", "Noto Sans CJK JP", sans-serif' font-weight="bold" fill="#333">0</text>
<text x="97.30" y="918.30" font-size="10" text-anchor="end" font-family='"Liberation Sans", "Noto Sans CJK JP", sans-serif' font-weight="bold" fill="#333">4</text>
<text x="97.30" y="891.90" font-size="10" text-anchor="end" font-family='"Liberation Sans", "Noto Sans CJK JP", sans-serif' font-weight="bold" fill="#333">8</text>
<text x="97.30" y="864.30" font-size="10" text-anchor="end" font-family='"Liberation Sans", "Noto Sans CJK JP", sans-serif' font-weight="bold" fill="#333">12</text>
<text x="97.30" y="837.50" font-size="10" text-anchor="end" font-family='"Liberation Sans", "Noto Sans CJK JP", sans-serif' font-weight="bold" fill="#333">16</text>
<text x="97.30" y="809.20" font-size="10" text-anchor="end" font-family='"Liberation Sans", "Noto Sans CJK JP", sans-serif' font-weight="bold" fill="#333">20</text>
<text x="97.30" y="782.30" font-size="10" text-anchor="end" font-family='"Liberation Sans", "Noto Sans CJK JP", sans-serif' font-weight="bold" fill="#333">24</text>
<text x="97.30" y="756.10" font-size="10" text-anchor="end" font-family='"Liberation Sans", "Noto Sans CJK JP", sans-serif' font-weight="bold" fill="#333">28</text>
<text x="97.30" y="728.10" font-size="10" text-anchor="end" font-family='"Liberation Sans", "Noto Sans CJK JP", sans-serif' font-weight="bold" fill="#333">32</text>
<text x="97.30" y="701.50" font-size="10" text-anchor="end" font-family='"Liberation Sans", "Noto Sans CJK JP", sans-serif' font-weight="bold" fill="#333">36</text>
<text x="109.70" y="957.50" font-size="10" text-anchor="middle" font-family='"Liberation Sans", "Noto Sans CJK JP", sans-serif' font-weight="bold" fill="#333">0</text>
<text x="174.28" y="957.50" font-size="10" text-anchor="middle" font-family='"Liberation Sans", "Noto Sans CJK JP", sans-serif' font-weight="bold" fill="#333">150</text>
<text x="238.85" y="957.50" font-size="10" text-anchor="middle" font-family='"Liberation Sans", "Noto Sans CJK JP", sans-serif' font-weight="bold" fill="#333">300</text>
<text x="303.43" y="957.50" font-size="10" text-anchor="middle" font-family='"Liberation Sans", "Noto Sans CJK JP", sans-serif' font-weight="bold" fill="#333">450</text>
<text x="368.00" y="957.50" font-size="10" text-anchor="middle" font-family='"Liberation Sans", "Noto Sans CJK JP", sans-serif' font-weight="bold" fill="#333">600</text>
<text x="432.57" y="957.50" font-size="10" text-anchor="middle" font-family='"Liberation Sans", "Noto Sans CJK JP", sans-serif' font-weight="bold" fill="#333">750</text>
<text x="497.15" y="957.50" font-size="10" text-anchor="middle" font-family='"Liberation Sans", "Noto Sans CJK JP", sans-serif' font-weight="bold" fill="#333">900</text>
<text x="561.73" y="957.50" font-size="10" text-anchor="middle" font-family='"Liberation Sans", "Noto Sans CJK JP", sans-serif' font-weight="bold" fill="#333">1050</text>
<text x="316.75" y="976.19" font-size="13.4" text-anchor="start" font-family='"Liberation Sans", "Noto Sans CJK JP", sans-serif' font-weight="500" fill="#1a1a1a" textLength="59.64" lengthAdjust="spacingAndGlyphs">計測位置</text>
<text x="376.01" y="976.67" font-size="13.48" text-anchor="start" font-family='"Liberation Sans", "Noto Sans CJK JP", sans-serif' fill="#1a1a1a" textLength="19.81" lengthAdjust="spacingAndGlyphs" stroke="#1a1a1a" stroke-width="0.4">Tip</text>
<text x="394.86" y="976.58" font-size="13.64" text-anchor="start" font-family='"Liberation Sans", "Noto Sans CJK JP", sans-serif' font-weight="500" fill="#1a1a1a" textLength="23.00" lengthAdjust="spacingAndGlyphs">より</text>
<text x="428.46" y="976.45" font-size="14.55" text-anchor="start" font-family='"Liberation Sans", "Noto Sans CJK JP", sans-serif' fill="#1a1a1a" textLength="28.64" lengthAdjust="spacingAndGlyphs" stroke="#1a1a1a" stroke-width="0.4">(mm)</text>
<g transform="translate(79.4 861.20) rotate(-90)">
<text x="-0.41" y="0.00" font-size="14.2" text-anchor="start" font-family='"Liberation Sans", "Noto Sans CJK JP", sans-serif' font-weight="500" fill="#1a1a1a" textLength="54.93" lengthAdjust="spacingAndGlyphs">測定荷重</text>
<text x="54.09" y="-2.30" font-size="11.8" text-anchor="start" font-family='"Liberation Sans", "Noto Sans CJK JP", sans-serif' fill="#1a1a1a" textLength="32.88" lengthAdjust="spacingAndGlyphs" stroke="#1a1a1a" stroke-width="0.3">(Kgf)</text>
</g>
<path d="M174.28 895.33 L195.80 894.25 L217.32 890.88 L238.85 887.57 L260.38 883.65 L281.90 878.05 L303.43 871.57 L324.95 862.73 L346.48 853.08 L368.00 843.22 L389.52 835.39 L411.05 825.13 L432.57 813.92 L454.10 803.60 L475.62 791.65 L497.15 782.54 L518.67 773.83 L540.20 768.63" fill="none" stroke="#6189c4" stroke-width="1.1" stroke-linejoin="round"/>
<path d="M174.28 892.93L176.18 895.33L174.28 897.73L172.38 895.33Z" fill="#fff" stroke="#6189c4" stroke-width="1.0"/>
<path d="M195.80 891.85L197.70 894.25L195.80 896.65L193.90 894.25Z" fill="#fff" stroke="#6189c4" stroke-width="1.0"/>
<path d="M217.32 888.48L219.22 890.88L217.32 893.27L215.42 890.88Z" fill="#fff" stroke="#6189c4" stroke-width="1.0"/>
<path d="M238.85 885.17L240.75 887.57L238.85 889.97L236.95 887.57Z" fill="#fff" stroke="#6189c4" stroke-width="1.0"/>
<path d="M260.38 881.25L262.27 883.65L260.38 886.05L258.48 883.65Z" fill="#fff" stroke="#6189c4" stroke-width="1.0"/>
<path d="M281.90 875.65L283.80 878.05L281.90 880.45L280.00 878.05Z" fill="#fff" stroke="#6189c4" stroke-width="1.0"/>
<path d="M303.43 869.17L305.32 871.57L303.43 873.97L301.53 871.57Z" fill="#fff" stroke="#6189c4" stroke-width="1.0"/>
<path d="M324.95 860.33L326.85 862.73L324.95 865.13L323.05 862.73Z" fill="#fff" stroke="#6189c4" stroke-width="1.0"/>
<path d="M346.48 850.68L348.38 853.08L346.48 855.48L344.58 853.08Z" fill="#fff" stroke="#6189c4" stroke-width="1.0"/>
<path d="M368.00 840.82L369.90 843.22L368.00 845.62L366.10 843.22Z" fill="#fff" stroke="#6189c4" stroke-width="1.0"/>
<path d="M389.52 832.99L391.42 835.39L389.52 837.79L387.62 835.39Z" fill="#fff" stroke="#6189c4" stroke-width="1.0"/>
<path d="M411.05 822.73L412.95 825.13L411.05 827.53L409.15 825.13Z" fill="#fff" stroke="#6189c4" stroke-width="1.0"/>
<path d="M432.57 811.52L434.47 813.92L432.57 816.32L430.68 813.92Z" fill="#fff" stroke="#6189c4" stroke-width="1.0"/>
<path d="M454.10 801.20L456.00 803.60L454.10 806.00L452.20 803.60Z" fill="#fff" stroke="#6189c4" stroke-width="1.0"/>
<path d="M475.62 789.25L477.52 791.65L475.62 794.05L473.73 791.65Z" fill="#fff" stroke="#6189c4" stroke-width="1.0"/>
<path d="M497.15 780.14L499.05 782.54L497.15 784.94L495.25 782.54Z" fill="#fff" stroke="#6189c4" stroke-width="1.0"/>
<path d="M518.67 771.43L520.57 773.83L518.67 776.23L516.77 773.83Z" fill="#fff" stroke="#6189c4" stroke-width="1.0"/>
<path d="M540.20 766.23L542.10 768.63L540.20 771.03L538.30 768.63Z" fill="#fff" stroke="#6189c4" stroke-width="1.0"/>
<path d="M174.28 888.31 L195.80 885.61 L217.32 881.42 L238.85 878.05 L260.38 874.40 L281.90 867.99 L303.43 859.89 L324.95 850.11 L346.48 839.98 L368.00 829.79 L389.52 818.72 L411.05 807.51 L432.57 794.42 L454.10 781.86 L475.62 769.17 L497.15 756.41 L518.67 746.49 L540.20 741.02" fill="none" stroke="#1c2657" stroke-width="1.1" stroke-linejoin="round"/>
<rect x="172.12" y="886.16" width="4.30" height="4.30" fill="#e4e8f2" stroke="#1c2657" stroke-width="1.3"/>
<rect x="193.65" y="883.46" width="4.30" height="4.30" fill="#e4e8f2" stroke="#1c2657" stroke-width="1.3"/>
<rect x="215.17" y="879.27" width="4.30" height="4.30" fill="#e4e8f2" stroke="#1c2657" stroke-width="1.3"/>
<rect x="236.70" y="875.90" width="4.30" height="4.30" fill="#e4e8f2" stroke="#1c2657" stroke-width="1.3"/>
<rect x="258.23" y="872.25" width="4.30" height="4.30" fill="#e4e8f2" stroke="#1c2657" stroke-width="1.3"/>
<rect x="279.75" y="865.84" width="4.30" height="4.30" fill="#e4e8f2" stroke="#1c2657" stroke-width="1.3"/>
<rect x="301.28" y="857.74" width="4.30" height="4.30" fill="#e4e8f2" stroke="#1c2657" stroke-width="1.3"/>
<rect x="322.80" y="847.96" width="4.30" height="4.30" fill="#e4e8f2" stroke="#1c2657" stroke-width="1.3"/>
<rect x="344.33" y="837.83" width="4.30" height="4.30" fill="#e4e8f2" stroke="#1c2657" stroke-width="1.3"/>
<rect x="365.85" y="827.64" width="4.30" height="4.30" fill="#e4e8f2" stroke="#1c2657" stroke-width="1.3"/>
<rect x="387.38" y="816.57" width="4.30" height="4.30" fill="#e4e8f2" stroke="#1c2657" stroke-width="1.3"/>
<rect x="408.90" y="805.36" width="4.30" height="4.30" fill="#e4e8f2" stroke="#1c2657" stroke-width="1.3"/>
<rect x="430.43" y="792.27" width="4.30" height="4.30" fill="#e4e8f2" stroke="#1c2657" stroke-width="1.3"/>
<rect x="451.95" y="779.71" width="4.30" height="4.30" fill="#e4e8f2" stroke="#1c2657" stroke-width="1.3"/>
<rect x="473.48" y="767.02" width="4.30" height="4.30" fill="#e4e8f2" stroke="#1c2657" stroke-width="1.3"/>
<rect x="495.00" y="754.26" width="4.30" height="4.30" fill="#e4e8f2" stroke="#1c2657" stroke-width="1.3"/>
<rect x="516.52" y="744.34" width="4.30" height="4.30" fill="#e4e8f2" stroke="#1c2657" stroke-width="1.3"/>
<rect x="538.05" y="738.88" width="4.30" height="4.30" fill="#e4e8f2" stroke="#1c2657" stroke-width="1.3"/>
<path d="M174.28 883.65 L195.80 877.71 L217.32 872.99 L238.85 870.22 L260.38 867.38 L281.90 861.78 L303.43 853.48 L324.95 842.27 L346.48 832.62 L368.00 821.69 L389.52 809.67 L411.05 799.08 L432.57 785.17 L454.10 771.40 L475.62 756.41 L497.15 746.29 L518.67 740.82 L540.20 738.19" fill="none" stroke="#e2483e" stroke-width="1.1" stroke-linejoin="round"/>
<path d="M174.28 881.25L176.68 885.57L171.88 885.57Z" fill="#f7c0ba" stroke="#e2483e" stroke-width="1.0"/>
<path d="M195.80 875.31L198.20 879.63L193.40 879.63Z" fill="#f7c0ba" stroke="#e2483e" stroke-width="1.0"/>
<path d="M217.32 870.59L219.72 874.91L214.92 874.91Z" fill="#f7c0ba" stroke="#e2483e" stroke-width="1.0"/>
<path d="M238.85 867.82L241.25 872.14L236.45 872.14Z" fill="#f7c0ba" stroke="#e2483e" stroke-width="1.0"/>
<path d="M260.38 864.99L262.77 869.30L257.98 869.30Z" fill="#f7c0ba" stroke="#e2483e" stroke-width="1.0"/>
<path d="M281.90 859.38L284.30 863.70L279.50 863.70Z" fill="#f7c0ba" stroke="#e2483e" stroke-width="1.0"/>
<path d="M303.43 851.08L305.82 855.40L301.03 855.40Z" fill="#f7c0ba" stroke="#e2483e" stroke-width="1.0"/>
<path d="M324.95 839.88L327.35 844.19L322.55 844.19Z" fill="#f7c0ba" stroke="#e2483e" stroke-width="1.0"/>
<path d="M346.48 830.22L348.88 834.54L344.08 834.54Z" fill="#f7c0ba" stroke="#e2483e" stroke-width="1.0"/>
<path d="M368.00 819.29L370.40 823.61L365.60 823.61Z" fill="#f7c0ba" stroke="#e2483e" stroke-width="1.0"/>
<path d="M389.52 807.27L391.92 811.59L387.12 811.59Z" fill="#f7c0ba" stroke="#e2483e" stroke-width="1.0"/>
<path d="M411.05 796.68L413.45 801.00L408.65 801.00Z" fill="#f7c0ba" stroke="#e2483e" stroke-width="1.0"/>
<path d="M432.57 782.77L434.97 787.09L430.18 787.09Z" fill="#f7c0ba" stroke="#e2483e" stroke-width="1.0"/>
<path d="M454.10 769.00L456.50 773.32L451.70 773.32Z" fill="#f7c0ba" stroke="#e2483e" stroke-width="1.0"/>
<path d="M475.62 754.01L478.02 758.33L473.23 758.33Z" fill="#f7c0ba" stroke="#e2483e" stroke-width="1.0"/>
<path d="M497.15 743.89L499.55 748.21L494.75 748.21Z" fill="#f7c0ba" stroke="#e2483e" stroke-width="1.0"/>
<path d="M518.67 738.42L521.07 742.74L516.27 742.74Z" fill="#f7c0ba" stroke="#e2483e" stroke-width="1.0"/>
<path d="M540.20 735.79L542.60 740.11L537.80 740.11Z" fill="#f7c0ba" stroke="#e2483e" stroke-width="1.0"/>
<path d="M174.28 879.40 L195.80 872.99 L217.32 867.38 L238.85 864.62 L260.38 861.31 L281.90 854.02 L303.43 845.11 L324.95 834.51 L346.48 823.24 L368.00 811.09 L389.52 799.41 L411.05 787.40 L432.57 774.03 L454.10 758.78 L475.62 743.52 L497.15 730.97 L518.67 723.48 L540.20 717.60" fill="none" stroke="#52a85a" stroke-width="1.1" stroke-linejoin="round"/>
<path d="M172.18 877.30L176.38 881.50M176.38 877.30L172.18 881.50" stroke="#52a85a" stroke-width="1.0" fill="none"/>
<path d="M193.70 870.89L197.90 875.09M197.90 870.89L193.70 875.09" stroke="#52a85a" stroke-width="1.0" fill="none"/>
<path d="M215.22 865.28L219.42 869.49M219.42 865.28L215.22 869.49" stroke="#52a85a" stroke-width="1.0" fill="none"/>
<path d="M236.75 862.52L240.95 866.72M240.95 862.52L236.75 866.72" stroke="#52a85a" stroke-width="1.0" fill="none"/>
<path d="M258.27 859.21L262.48 863.41M262.48 859.21L258.27 863.41" stroke="#52a85a" stroke-width="1.0" fill="none"/>
<path d="M279.80 851.92L284.00 856.12M284.00 851.92L279.80 856.12" stroke="#52a85a" stroke-width="1.0" fill="none"/>
<path d="M301.32 843.01L305.53 847.21M305.53 843.01L301.32 847.21" stroke="#52a85a" stroke-width="1.0" fill="none"/>
<path d="M322.85 832.41L327.05 836.61M327.05 832.41L322.85 836.61" stroke="#52a85a" stroke-width="1.0" fill="none"/>
<path d="M344.38 821.14L348.58 825.34M348.58 821.14L344.38 825.34" stroke="#52a85a" stroke-width="1.0" fill="none"/>
<path d="M365.90 808.99L370.10 813.19M370.10 808.99L365.90 813.19" stroke="#52a85a" stroke-width="1.0" fill="none"/>
<path d="M387.42 797.31L391.62 801.51M391.62 797.31L387.42 801.51" stroke="#52a85a" stroke-width="1.0" fill="none"/>
<path d="M408.95 785.30L413.15 789.50M413.15 785.30L408.95 789.50" stroke="#52a85a" stroke-width="1.0" fill="none"/>
<path d="M430.47 771.93L434.68 776.13M434.68 771.93L430.47 776.13" stroke="#52a85a" stroke-width="1.0" fill="none"/>
<path d="M452.00 756.68L456.20 760.88M456.20 756.68L452.00 760.88" stroke="#52a85a" stroke-width="1.0" fill="none"/>
<path d="M473.52 741.42L477.73 745.62M477.73 741.42L473.52 745.62" stroke="#52a85a" stroke-width="1.0" fill="none"/>
<path d="M495.05 728.87L499.25 733.07M499.25 728.87L495.05 733.07" stroke="#52a85a" stroke-width="1.0" fill="none"/>
<path d="M516.57 721.38L520.77 725.58M520.77 721.38L516.57 725.58" stroke="#52a85a" stroke-width="1.0" fill="none"/>
<path d="M538.10 715.50L542.30 719.70M542.30 715.50L538.10 719.70" stroke="#52a85a" stroke-width="1.0" fill="none"/>
<rect x="506.3" y="812.3" width="142.8" height="99.30000000000007" fill="#fff" stroke="#999" stroke-width="1.1"/>
<line x1="528.30" y1="824.60" x2="547.30" y2="824.60" stroke="#6189c4" stroke-width="1.3"/>
<path d="M537.80 822.20L539.70 824.60L537.80 827.00L535.90 824.60Z" fill="#fff" stroke="#6189c4" stroke-width="1.0"/>
<text x="549.82" y="828.00" font-size="9.3" text-anchor="start" font-family='"Liberation Sans", "Noto Sans CJK JP", sans-serif' fill="#1a1a1a" textLength="65.64" lengthAdjust="spacingAndGlyphs" stroke="#1a1a1a" stroke-width="0.2">TRW588R(60R)</text>
<line x1="528.30" y1="849.10" x2="547.30" y2="849.10" stroke="#1c2657" stroke-width="1.3"/>
<rect x="535.65" y="846.95" width="4.30" height="4.30" fill="#e4e8f2" stroke="#1c2657" stroke-width="1.3"/>
<text x="549.81" y="852.50" font-size="9.3" text-anchor="start" font-family='"Liberation Sans", "Noto Sans CJK JP", sans-serif' fill="#1a1a1a" textLength="65.64" lengthAdjust="spacingAndGlyphs" stroke="#1a1a1a" stroke-width="0.2">TRW588S(60S)</text>
<line x1="528.30" y1="874.30" x2="547.30" y2="874.30" stroke="#e2483e" stroke-width="1.3"/>
<path d="M537.80 871.90L540.20 876.22L535.40 876.22Z" fill="#f7c0ba" stroke="#e2483e" stroke-width="1.0"/>
<text x="549.81" y="877.70" font-size="9.3" text-anchor="start" font-family='"Liberation Sans", "Noto Sans CJK JP", sans-serif' fill="#1a1a1a" textLength="65.64" lengthAdjust="spacingAndGlyphs" stroke="#1a1a1a" stroke-width="0.2">TRW588X(60X)</text>
<line x1="528.30" y1="900.00" x2="547.30" y2="900.00" stroke="#52a85a" stroke-width="1.3"/>
<path d="M535.70 897.90L539.90 902.10M539.90 897.90L535.70 902.10" stroke="#52a85a" stroke-width="1.0" fill="none"/>
<text x="549.81" y="903.40" font-size="9.3" text-anchor="start" font-family='"Liberation Sans", "Noto Sans CJK JP", sans-serif' fill="#1a1a1a" textLength="78.63" lengthAdjust="spacingAndGlyphs" stroke="#1a1a1a" stroke-width="0.2">TRW588TX(60TX)</text>
</svg>
</body></html>
